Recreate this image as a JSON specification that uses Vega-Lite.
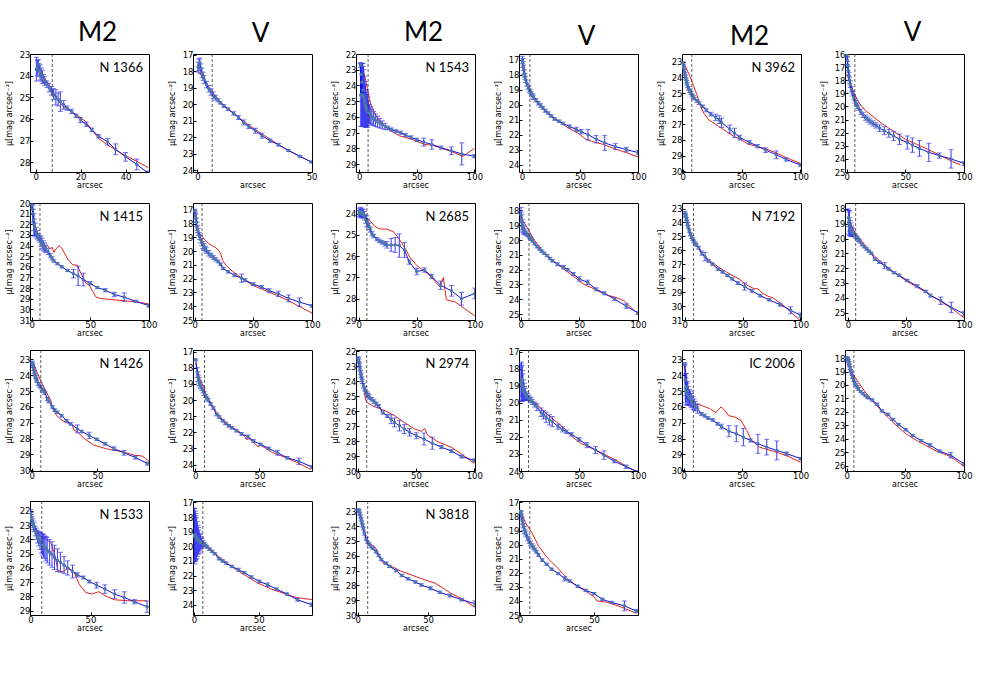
{
  "$schema": "https://vega.github.io/schema/vega-lite/v6.json",
  "padding": {"left": 4, "top": 19, "right": 0, "bottom": 0},
  "spacing": 8,
  "config": {
    "view": {"stroke": "#000", "strokeWidth": 1},
    "axis": {"labelFont": "DejaVu Sans", "labelFontSize": 8.5, "titleFont": "DejaVu Sans", "titleFontSize": 8, "titleFontWeight": "normal", "tickColor": "#000", "domain": false, "labelColor": "#000", "titleColor": "#000", "grid": false, "tickSize": -3, "labelPadding": 3},
    "axisY": {"tickCount": 12, "tickMinStep": 1, "minExtent": 15, "maxExtent": 15, "titlePadding": 2},
    "axisX": {"titlePadding": 1, "labelFlush": false},
    "title": {"font": "Lato", "fontSize": 26, "fontWeight": "normal", "frame": "group", "dx": 8, "offset": 4, "color": "#000"},
    "text": {"font": "Lato", "fontSize": 13, "color": "#000"}
  },
  "datasets": {
    "one": [{}],
    "obs": [
      {"p":"a1","r":0.3,"m":23.7,"e":0.55},{"p":"a1","r":0.8,"m":23.65,"e":0.35},{"p":"a1","r":1.2,"m":23.5,"e":0.25},{"p":"a1","r":1.6,"m":23.75,"e":0.3},{"p":"a1","r":2,"m":23.85,"e":0.35},{"p":"a1","r":2.5,"m":23.95,"e":0.3},{"p":"a1","r":3,"m":24.05,"e":0.3},{"p":"a1","r":3.5,"m":24.15,"e":0.2},{"p":"a1","r":4,"m":24.25,"e":0.2},{"p":"a1","r":5,"m":24.4,"e":0.15},{"p":"a1","r":6,"m":24.55,"e":0.2},{"p":"a1","r":7,"m":24.7,"e":0.2},{"p":"a1","r":8,"m":24.85,"e":0.25},{"p":"a1","r":9,"m":25.0,"e":0.35},{"p":"a1","r":10,"m":25.1,"e":0.3},{"p":"a1","r":11,"m":25.2,"e":0.45},{"p":"a1","r":12.5,"m":25.35,"e":0.2},{"p":"a1","r":14,"m":25.5,"e":0.1},{"p":"a1","r":16,"m":25.65,"e":0.1},{"p":"a1","r":18,"m":25.85,"e":0.08},{"p":"a1","r":20,"m":26.05,"e":0.12},{"p":"a1","r":22.5,"m":26.25,"e":0.1},{"p":"a1","r":25,"m":26.5,"e":0.08},{"p":"a1","r":28,"m":26.8,"e":0.08},{"p":"a1","r":32,"m":27.05,"e":0.15},{"p":"a1","r":35.5,"m":27.4,"e":0.25},{"p":"a1","r":40,"m":27.75,"e":0.2},{"p":"a1","r":45,"m":28.1,"e":0.25},{"p":"a1","r":50,"m":28.5,"e":0.1},
      {"p":"a2","r":0.3,"m":17.75,"e":0.3},{"p":"a2","r":0.7,"m":17.6,"e":0.35},{"p":"a2","r":1.1,"m":17.5,"e":0.3},{"p":"a2","r":1.5,"m":17.85,"e":0.3},{"p":"a2","r":2,"m":18.1,"e":0.3},{"p":"a2","r":2.5,"m":18.3,"e":0.25},{"p":"a2","r":3,"m":18.5,"e":0.25},{"p":"a2","r":4,"m":18.8,"e":0.2},{"p":"a2","r":5,"m":19.05,"e":0.2},{"p":"a2","r":6,"m":19.25,"e":0.2},{"p":"a2","r":7,"m":19.45,"e":0.2},{"p":"a2","r":8,"m":19.6,"e":0.15},{"p":"a2","r":9,"m":19.75,"e":0.1},{"p":"a2","r":10,"m":19.9,"e":0.08},{"p":"a2","r":11.6,"m":20.1,"e":0.08},{"p":"a2","r":13.5,"m":20.3,"e":0.08},{"p":"a2","r":15.9,"m":20.55,"e":0.1},{"p":"a2","r":18,"m":20.8,"e":0.12},{"p":"a2","r":20.3,"m":21.1,"e":0.15},{"p":"a2","r":22.5,"m":21.35,"e":0.12},{"p":"a2","r":25.4,"m":21.6,"e":0.15},{"p":"a2","r":28.3,"m":21.9,"e":0.15},{"p":"a2","r":31.9,"m":22.2,"e":0.1},{"p":"a2","r":35.5,"m":22.45,"e":0.08},{"p":"a2","r":39.9,"m":22.8,"e":0.05},{"p":"a2","r":44.9,"m":23.15,"e":0.05},{"p":"a2","r":50,"m":23.5,"e":0.05},
      {"p":"a3","r":1,"m":22.7,"e":0.15},{"p":"a3","r":1.3,"m":24.6,"e":2.0},{"p":"a3","r":1.6,"m":23.3,"e":0.7},{"p":"a3","r":2,"m":24.6,"e":2.0},{"p":"a3","r":2.4,"m":23.8,"e":1.2},{"p":"a3","r":2.8,"m":24.6,"e":2.0},{"p":"a3","r":3.2,"m":24.3,"e":1.7},{"p":"a3","r":3.6,"m":24.7,"e":1.9},{"p":"a3","r":4,"m":24.8,"e":1.8},{"p":"a3","r":4.5,"m":25.0,"e":1.6},{"p":"a3","r":5,"m":25.2,"e":1.45},{"p":"a3","r":5.5,"m":25.3,"e":1.35},{"p":"a3","r":6,"m":25.45,"e":1.2},{"p":"a3","r":6.5,"m":25.55,"e":1.1},{"p":"a3","r":7,"m":25.6,"e":1.05},{"p":"a3","r":7.5,"m":25.65,"e":0.9},{"p":"a3","r":8,"m":25.7,"e":0.7},{"p":"a3","r":9,"m":25.8,"e":0.6},{"p":"a3","r":10,"m":25.9,"e":0.55},{"p":"a3","r":11,"m":26.0,"e":0.5},{"p":"a3","r":12.5,"m":26.1,"e":0.45},{"p":"a3","r":14,"m":26.2,"e":0.4},{"p":"a3","r":16,"m":26.3,"e":0.35},{"p":"a3","r":18,"m":26.4,"e":0.3},{"p":"a3","r":20,"m":26.5,"e":0.25},{"p":"a3","r":22.5,"m":26.6,"e":0.2},{"p":"a3","r":25,"m":26.7,"e":0.12},{"p":"a3","r":28,"m":26.8,"e":0.1},{"p":"a3","r":32,"m":26.9,"e":0.08},{"p":"a3","r":36,"m":27.0,"e":0.1},{"p":"a3","r":40,"m":27.15,"e":0.1},{"p":"a3","r":45,"m":27.3,"e":0.1},{"p":"a3","r":50,"m":27.45,"e":0.1},{"p":"a3","r":56,"m":27.6,"e":0.25},{"p":"a3","r":63,"m":27.75,"e":0.3},{"p":"a3","r":71,"m":27.95,"e":0.1},{"p":"a3","r":80,"m":28.15,"e":0.25},{"p":"a3","r":89,"m":28.35,"e":0.7},{"p":"a3","r":100,"m":28.5,"e":0.1},
      {"p":"a4","r":0.3,"m":17.0,"e":0.25},{"p":"a4","r":0.7,"m":17.2,"e":0.3},{"p":"a4","r":1,"m":17.4,"e":0.3},{"p":"a4","r":1.5,"m":17.65,"e":0.3},{"p":"a4","r":2,"m":17.9,"e":0.25},{"p":"a4","r":2.5,"m":18.1,"e":0.2},{"p":"a4","r":3,"m":18.3,"e":0.2},{"p":"a4","r":4,"m":18.55,"e":0.2},{"p":"a4","r":5,"m":18.75,"e":0.2},{"p":"a4","r":6,"m":18.95,"e":0.2},{"p":"a4","r":7,"m":19.1,"e":0.15},{"p":"a4","r":8,"m":19.25,"e":0.15},{"p":"a4","r":9,"m":19.4,"e":0.15},{"p":"a4","r":10,"m":19.5,"e":0.15},{"p":"a4","r":12,"m":19.7,"e":0.12},{"p":"a4","r":14,"m":19.9,"e":0.12},{"p":"a4","r":16,"m":20.05,"e":0.12},{"p":"a4","r":18,"m":20.2,"e":0.1},{"p":"a4","r":20,"m":20.4,"e":0.1},{"p":"a4","r":22.5,"m":20.55,"e":0.08},{"p":"a4","r":25,"m":20.75,"e":0.08},{"p":"a4","r":28,"m":20.95,"e":0.08},{"p":"a4","r":32,"m":21.1,"e":0.08},{"p":"a4","r":35.3,"m":21.25,"e":0.08},{"p":"a4","r":41,"m":21.45,"e":0.1},{"p":"a4","r":46.8,"m":21.65,"e":0.15},{"p":"a4","r":51.1,"m":21.8,"e":0.15},{"p":"a4","r":56.9,"m":22.0,"e":0.35},{"p":"a4","r":64,"m":22.3,"e":0.25},{"p":"a4","r":71.3,"m":22.55,"e":0.5},{"p":"a4","r":80.5,"m":22.8,"e":0.2},{"p":"a4","r":89.9,"m":23.0,"e":0.15},{"p":"a4","r":100,"m":23.2,"e":0.15},
      {"p":"a5","r":0.3,"m":23.1,"e":0.1},{"p":"a5","r":0.7,"m":23.3,"e":0.15},{"p":"a5","r":1,"m":23.45,"e":0.15},{"p":"a5","r":1.5,"m":23.65,"e":0.15},{"p":"a5","r":2,"m":23.85,"e":0.15},{"p":"a5","r":2.5,"m":24.0,"e":0.15},{"p":"a5","r":3,"m":24.2,"e":0.15},{"p":"a5","r":3.5,"m":24.35,"e":0.15},{"p":"a5","r":4,"m":24.5,"e":0.15},{"p":"a5","r":5,"m":24.7,"e":0.12},{"p":"a5","r":6,"m":24.85,"e":0.12},{"p":"a5","r":7,"m":25.0,"e":0.1},{"p":"a5","r":8,"m":25.15,"e":0.1},{"p":"a5","r":9,"m":25.25,"e":0.1},{"p":"a5","r":10,"m":25.35,"e":0.08},{"p":"a5","r":12,"m":25.5,"e":0.08},{"p":"a5","r":14,"m":25.65,"e":0.08},{"p":"a5","r":17,"m":25.85,"e":0.08},{"p":"a5","r":20,"m":26.1,"e":0.1},{"p":"a5","r":24,"m":26.35,"e":0.12},{"p":"a5","r":28,"m":26.55,"e":0.2},{"p":"a5","r":31,"m":26.7,"e":0.25},{"p":"a5","r":33,"m":26.9,"e":0.3},{"p":"a5","r":40,"m":27.3,"e":0.25},{"p":"a5","r":44,"m":27.55,"e":0.3},{"p":"a5","r":48.5,"m":27.85,"e":0.15},{"p":"a5","r":56.7,"m":28.15,"e":0.1},{"p":"a5","r":63.6,"m":28.4,"e":0.1},{"p":"a5","r":70.4,"m":28.65,"e":0.15},{"p":"a5","r":79.5,"m":28.95,"e":0.25},{"p":"a5","r":88,"m":29.25,"e":0.1},{"p":"a5","r":100,"m":29.6,"e":0.1},
      {"p":"a6","r":0.3,"m":16.1,"e":0.15},{"p":"a6","r":0.6,"m":16.5,"e":0.3},{"p":"a6","r":1,"m":16.9,"e":0.35},{"p":"a6","r":1.5,"m":17.3,"e":0.35},{"p":"a6","r":2,"m":17.7,"e":0.3},{"p":"a6","r":2.5,"m":18.0,"e":0.25},{"p":"a6","r":3,"m":18.3,"e":0.25},{"p":"a6","r":4,"m":18.7,"e":0.2},{"p":"a6","r":5,"m":19.0,"e":0.2},{"p":"a6","r":6,"m":19.3,"e":0.2},{"p":"a6","r":7,"m":19.55,"e":0.2},{"p":"a6","r":8,"m":19.75,"e":0.2},{"p":"a6","r":9,"m":19.95,"e":0.2},{"p":"a6","r":10,"m":20.1,"e":0.2},{"p":"a6","r":12,"m":20.4,"e":0.2},{"p":"a6","r":14,"m":20.65,"e":0.2},{"p":"a6","r":16,"m":20.85,"e":0.2},{"p":"a6","r":18,"m":21.0,"e":0.2},{"p":"a6","r":20,"m":21.15,"e":0.2},{"p":"a6","r":22.5,"m":21.3,"e":0.2},{"p":"a6","r":25,"m":21.45,"e":0.2},{"p":"a6","r":28,"m":21.65,"e":0.25},{"p":"a6","r":32,"m":21.85,"e":0.3},{"p":"a6","r":36,"m":22.05,"e":0.3},{"p":"a6","r":40,"m":22.25,"e":0.35},{"p":"a6","r":45,"m":22.5,"e":0.4},{"p":"a6","r":51.7,"m":22.75,"e":0.5},{"p":"a6","r":56,"m":22.95,"e":0.55},{"p":"a6","r":62,"m":23.2,"e":0.6},{"p":"a6","r":70,"m":23.5,"e":0.7},{"p":"a6","r":79,"m":23.75,"e":0.2},{"p":"a6","r":89,"m":24.0,"e":0.7},{"p":"a6","r":100,"m":24.35,"e":0.15},
      {"p":"b1","r":0.3,"m":20.2,"e":0.3},{"p":"b1","r":0.7,"m":20.6,"e":0.5},{"p":"b1","r":1,"m":21.0,"e":0.8},{"p":"b1","r":1.5,"m":21.6,"e":1.0},{"p":"b1","r":2,"m":22.0,"e":1.0},{"p":"b1","r":2.5,"m":22.3,"e":0.8},{"p":"b1","r":3,"m":22.5,"e":0.6},{"p":"b1","r":4,"m":22.8,"e":0.5},{"p":"b1","r":5,"m":23.0,"e":0.4},{"p":"b1","r":6,"m":23.2,"e":0.35},{"p":"b1","r":7,"m":23.4,"e":0.3},{"p":"b1","r":8,"m":23.6,"e":0.5},{"p":"b1","r":9,"m":23.8,"e":0.5},{"p":"b1","r":10,"m":24.0,"e":0.45},{"p":"b1","r":11,"m":24.15,"e":0.4},{"p":"b1","r":12,"m":24.3,"e":0.35},{"p":"b1","r":14,"m":24.55,"e":0.3},{"p":"b1","r":16,"m":24.95,"e":0.2},{"p":"b1","r":17.5,"m":25.2,"e":0.15},{"p":"b1","r":19,"m":25.45,"e":0.1},{"p":"b1","r":22,"m":25.7,"e":0.1},{"p":"b1","r":25.7,"m":26.0,"e":0.1},{"p":"b1","r":30.6,"m":26.35,"e":0.1},{"p":"b1","r":35.7,"m":26.65,"e":0.4},{"p":"b1","r":39.7,"m":26.85,"e":0.9},{"p":"b1","r":44,"m":27.2,"e":0.6},{"p":"b1","r":50,"m":27.55,"e":0.15},{"p":"b1","r":56,"m":27.95,"e":0.1},{"p":"b1","r":62.9,"m":28.2,"e":0.15},{"p":"b1","r":70.6,"m":28.6,"e":0.2},{"p":"b1","r":79,"m":28.85,"e":0.4},{"p":"b1","r":89,"m":29.25,"e":0.1},{"p":"b1","r":100,"m":29.65,"e":0.15},
      {"p":"b2","r":0.3,"m":17.1,"e":0.15},{"p":"b2","r":0.7,"m":17.4,"e":0.25},{"p":"b2","r":1,"m":17.6,"e":0.3},{"p":"b2","r":1.5,"m":17.9,"e":0.3},{"p":"b2","r":2,"m":18.2,"e":0.3},{"p":"b2","r":2.5,"m":18.4,"e":0.25},{"p":"b2","r":3,"m":18.6,"e":0.25},{"p":"b2","r":4,"m":18.9,"e":0.25},{"p":"b2","r":5,"m":19.15,"e":0.25},{"p":"b2","r":6,"m":19.35,"e":0.25},{"p":"b2","r":7,"m":19.55,"e":0.25},{"p":"b2","r":8,"m":19.7,"e":0.25},{"p":"b2","r":9,"m":19.85,"e":0.2},{"p":"b2","r":10,"m":19.95,"e":0.2},{"p":"b2","r":12,"m":20.15,"e":0.2},{"p":"b2","r":14,"m":20.3,"e":0.15},{"p":"b2","r":16,"m":20.45,"e":0.15},{"p":"b2","r":18,"m":20.6,"e":0.12},{"p":"b2","r":20,"m":20.75,"e":0.1},{"p":"b2","r":22,"m":20.95,"e":0.1},{"p":"b2","r":24.3,"m":21.25,"e":0.08},{"p":"b2","r":28.6,"m":21.5,"e":0.08},{"p":"b2","r":34,"m":21.75,"e":0.1},{"p":"b2","r":40,"m":21.96,"e":0.3},{"p":"b2","r":42.9,"m":22.1,"e":0.1},{"p":"b2","r":50,"m":22.4,"e":0.1},{"p":"b2","r":57,"m":22.6,"e":0.1},{"p":"b2","r":63.4,"m":22.87,"e":0.15},{"p":"b2","r":71.4,"m":23.1,"e":0.2},{"p":"b2","r":80,"m":23.43,"e":0.25},{"p":"b2","r":89.4,"m":23.7,"e":0.3},{"p":"b2","r":100,"m":23.97,"e":0.1},
      {"p":"b3","r":0.3,"m":24.0,"e":0.15},{"p":"b3","r":0.7,"m":23.9,"e":0.15},{"p":"b3","r":1,"m":24.0,"e":0.15},{"p":"b3","r":1.5,"m":23.9,"e":0.2},{"p":"b3","r":2,"m":24.0,"e":0.2},{"p":"b3","r":2.5,"m":24.0,"e":0.15},{"p":"b3","r":3,"m":23.95,"e":0.2},{"p":"b3","r":3.5,"m":24.05,"e":0.15},{"p":"b3","r":4,"m":24.0,"e":0.2},{"p":"b3","r":5,"m":24.1,"e":0.2},{"p":"b3","r":6,"m":24.25,"e":0.2},{"p":"b3","r":7,"m":24.35,"e":0.25},{"p":"b3","r":8,"m":24.45,"e":0.2},{"p":"b3","r":9,"m":24.6,"e":0.15},{"p":"b3","r":10,"m":24.75,"e":0.12},{"p":"b3","r":11.4,"m":24.95,"e":0.1},{"p":"b3","r":13,"m":25.05,"e":0.08},{"p":"b3","r":15.7,"m":25.2,"e":0.08},{"p":"b3","r":18,"m":25.28,"e":0.08},{"p":"b3","r":20,"m":25.35,"e":0.08},{"p":"b3","r":22.5,"m":25.42,"e":0.1},{"p":"b3","r":24.3,"m":25.47,"e":0.15},{"p":"b3","r":28,"m":25.47,"e":0.3},{"p":"b3","r":31.4,"m":25.47,"e":0.35},{"p":"b3","r":35,"m":25.5,"e":0.55},{"p":"b3","r":39.4,"m":25.71,"e":0.35},{"p":"b3","r":43.7,"m":26.28,"e":0.1},{"p":"b3","r":50,"m":26.72,"e":0.15},{"p":"b3","r":56.6,"m":26.65,"e":0.1},{"p":"b3","r":62.9,"m":26.95,"e":0.1},{"p":"b3","r":70.6,"m":27.37,"e":0.2},{"p":"b3","r":80,"m":27.63,"e":0.25},{"p":"b3","r":88.6,"m":28.0,"e":0.3},{"p":"b3","r":100,"m":27.75,"e":0.25},
      {"p":"b4","r":0.3,"m":18.3,"e":0.5},{"p":"b4","r":0.7,"m":18.6,"e":0.5},{"p":"b4","r":1,"m":18.8,"e":0.5},{"p":"b4","r":1.5,"m":19.0,"e":0.4},{"p":"b4","r":2,"m":19.15,"e":0.35},{"p":"b4","r":2.5,"m":19.3,"e":0.3},{"p":"b4","r":3,"m":19.35,"e":0.25},{"p":"b4","r":4,"m":19.45,"e":0.2},{"p":"b4","r":5,"m":19.55,"e":0.15},{"p":"b4","r":6,"m":19.65,"e":0.12},{"p":"b4","r":7,"m":19.75,"e":0.1},{"p":"b4","r":8,"m":19.85,"e":0.1},{"p":"b4","r":9,"m":19.95,"e":0.08},{"p":"b4","r":10,"m":20.05,"e":0.08},{"p":"b4","r":12,"m":20.25,"e":0.08},{"p":"b4","r":14,"m":20.45,"e":0.08},{"p":"b4","r":16,"m":20.6,"e":0.08},{"p":"b4","r":18,"m":20.75,"e":0.08},{"p":"b4","r":20,"m":20.9,"e":0.08},{"p":"b4","r":22.5,"m":21.05,"e":0.08},{"p":"b4","r":25,"m":21.25,"e":0.08},{"p":"b4","r":27,"m":21.4,"e":0.08},{"p":"b4","r":31.4,"m":21.64,"e":0.1},{"p":"b4","r":36.6,"m":21.83,"e":0.12},{"p":"b4","r":40,"m":22.0,"e":0.08},{"p":"b4","r":45,"m":22.3,"e":0.1},{"p":"b4","r":50,"m":22.63,"e":0.15},{"p":"b4","r":57.1,"m":22.86,"e":0.15},{"p":"b4","r":64.3,"m":23.33,"e":0.1},{"p":"b4","r":71.4,"m":23.6,"e":0.1},{"p":"b4","r":80,"m":23.99,"e":0.1},{"p":"b4","r":90,"m":24.46,"e":0.15},{"p":"b4","r":100,"m":24.93,"e":0.1},
      {"p":"b5","r":0.3,"m":23.3,"e":0.1},{"p":"b5","r":0.7,"m":23.45,"e":0.1},{"p":"b5","r":1,"m":23.55,"e":0.1},{"p":"b5","r":1.5,"m":23.75,"e":0.1},{"p":"b5","r":2,"m":23.9,"e":0.1},{"p":"b5","r":2.5,"m":24.1,"e":0.1},{"p":"b5","r":3,"m":24.3,"e":0.1},{"p":"b5","r":4,"m":24.6,"e":0.1},{"p":"b5","r":5,"m":24.85,"e":0.1},{"p":"b5","r":6,"m":25.05,"e":0.1},{"p":"b5","r":7,"m":25.2,"e":0.1},{"p":"b5","r":8,"m":25.35,"e":0.1},{"p":"b5","r":9,"m":25.5,"e":0.1},{"p":"b5","r":10,"m":25.6,"e":0.1},{"p":"b5","r":12,"m":25.8,"e":0.1},{"p":"b5","r":14.8,"m":26.2,"e":0.15},{"p":"b5","r":17.6,"m":26.45,"e":0.3},{"p":"b5","r":20.5,"m":26.75,"e":0.1},{"p":"b5","r":24.1,"m":27.0,"e":0.08},{"p":"b5","r":29,"m":27.35,"e":0.08},{"p":"b5","r":32.7,"m":27.55,"e":0.08},{"p":"b5","r":37,"m":27.8,"e":0.08},{"p":"b5","r":41,"m":28.05,"e":0.08},{"p":"b5","r":46,"m":28.35,"e":0.1},{"p":"b5","r":51.7,"m":28.6,"e":0.25},{"p":"b5","r":58,"m":28.9,"e":0.1},{"p":"b5","r":65.3,"m":29.25,"e":0.1},{"p":"b5","r":73,"m":29.55,"e":0.08},{"p":"b5","r":82.4,"m":29.9,"e":0.1},{"p":"b5","r":91.5,"m":30.3,"e":0.25},{"p":"b5","r":100,"m":30.65,"e":0.15},
      {"p":"b6","r":0.3,"m":18.6,"e":0.6},{"p":"b6","r":0.6,"m":18.9,"e":0.8},{"p":"b6","r":1,"m":19.0,"e":0.8},{"p":"b6","r":1.3,"m":18.8,"e":0.7},{"p":"b6","r":1.6,"m":19.2,"e":0.6},{"p":"b6","r":2,"m":19.3,"e":0.5},{"p":"b6","r":2.5,"m":19.4,"e":0.45},{"p":"b6","r":3,"m":19.5,"e":0.35},{"p":"b6","r":3.5,"m":19.55,"e":0.3},{"p":"b6","r":4,"m":19.6,"e":0.25},{"p":"b6","r":5,"m":19.7,"e":0.15},{"p":"b6","r":6,"m":19.8,"e":0.12},{"p":"b6","r":7,"m":19.9,"e":0.1},{"p":"b6","r":8,"m":20.0,"e":0.1},{"p":"b6","r":9,"m":20.1,"e":0.1},{"p":"b6","r":10,"m":20.2,"e":0.1},{"p":"b6","r":12,"m":20.4,"e":0.1},{"p":"b6","r":14,"m":20.55,"e":0.08},{"p":"b6","r":16,"m":20.7,"e":0.08},{"p":"b6","r":18,"m":20.85,"e":0.08},{"p":"b6","r":20,"m":21.0,"e":0.08},{"p":"b6","r":23.3,"m":21.4,"e":0.08},{"p":"b6","r":27,"m":21.6,"e":0.08},{"p":"b6","r":31.6,"m":21.83,"e":0.2},{"p":"b6","r":35,"m":22.05,"e":0.08},{"p":"b6","r":39.6,"m":22.3,"e":0.08},{"p":"b6","r":44,"m":22.48,"e":0.08},{"p":"b6","r":51,"m":22.83,"e":0.08},{"p":"b6","r":59.8,"m":23.22,"e":0.1},{"p":"b6","r":67,"m":23.57,"e":0.08},{"p":"b6","r":71,"m":23.85,"e":0.1},{"p":"b6","r":80,"m":24.2,"e":0.25},{"p":"b6","r":89,"m":24.65,"e":0.35},{"p":"b6","r":100,"m":25.08,"e":0.15},
      {"p":"c1","r":0.3,"m":23.2,"e":0.1},{"p":"c1","r":0.7,"m":23.3,"e":0.1},{"p":"c1","r":1,"m":23.4,"e":0.1},{"p":"c1","r":1.5,"m":23.6,"e":0.1},{"p":"c1","r":2,"m":23.8,"e":0.1},{"p":"c1","r":2.5,"m":23.95,"e":0.1},{"p":"c1","r":3,"m":24.1,"e":0.1},{"p":"c1","r":3.5,"m":24.25,"e":0.1},{"p":"c1","r":4,"m":24.35,"e":0.1},{"p":"c1","r":5,"m":24.55,"e":0.1},{"p":"c1","r":6,"m":24.65,"e":0.1},{"p":"c1","r":7,"m":24.75,"e":0.1},{"p":"c1","r":8,"m":24.9,"e":0.1},{"p":"c1","r":9,"m":25.0,"e":0.1},{"p":"c1","r":10,"m":25.1,"e":0.1},{"p":"c1","r":12,"m":25.5,"e":0.1},{"p":"c1","r":13,"m":25.65,"e":0.08},{"p":"c1","r":15.7,"m":26.0,"e":0.08},{"p":"c1","r":17.5,"m":26.2,"e":0.08},{"p":"c1","r":19.5,"m":26.34,"e":0.08},{"p":"c1","r":22.8,"m":26.55,"e":0.08},{"p":"c1","r":26.6,"m":26.87,"e":0.08},{"p":"c1","r":29.7,"m":27.07,"e":0.08},{"p":"c1","r":34.8,"m":27.39,"e":0.25},{"p":"c1","r":38,"m":27.55,"e":0.08},{"p":"c1","r":43.7,"m":27.8,"e":0.2},{"p":"c1","r":49.5,"m":28.05,"e":0.08},{"p":"c1","r":55.8,"m":28.33,"e":0.08},{"p":"c1","r":62.7,"m":28.64,"e":0.12},{"p":"c1","r":70.3,"m":28.9,"e":0.15},{"p":"c1","r":79,"m":29.2,"e":0.1},{"p":"c1","r":88,"m":29.58,"e":0.1},
      {"p":"c2","r":0.3,"m":17.5,"e":0.05},{"p":"c2","r":1.5,"m":18.3,"e":0.3},{"p":"c2","r":2,"m":18.55,"e":0.3},{"p":"c2","r":2.5,"m":18.7,"e":0.25},{"p":"c2","r":3,"m":18.85,"e":0.25},{"p":"c2","r":3.5,"m":19.0,"e":0.2},{"p":"c2","r":4,"m":19.1,"e":0.2},{"p":"c2","r":5,"m":19.25,"e":0.15},{"p":"c2","r":6,"m":19.4,"e":0.15},{"p":"c2","r":7,"m":19.6,"e":0.12},{"p":"c2","r":8,"m":19.75,"e":0.1},{"p":"c2","r":9,"m":19.9,"e":0.1},{"p":"c2","r":10,"m":20.0,"e":0.1},{"p":"c2","r":12,"m":20.25,"e":0.08},{"p":"c2","r":14,"m":20.5,"e":0.08},{"p":"c2","r":16.7,"m":20.9,"e":0.08},{"p":"c2","r":18.5,"m":21.05,"e":0.08},{"p":"c2","r":21.3,"m":21.28,"e":0.08},{"p":"c2","r":23.5,"m":21.45,"e":0.08},{"p":"c2","r":26,"m":21.6,"e":0.08},{"p":"c2","r":28.5,"m":21.72,"e":0.08},{"p":"c2","r":32,"m":21.9,"e":0.08},{"p":"c2","r":36,"m":22.1,"e":0.08},{"p":"c2","r":41,"m":22.27,"e":0.1},{"p":"c2","r":45.4,"m":22.54,"e":0.08},{"p":"c2","r":50.8,"m":22.75,"e":0.08},{"p":"c2","r":57.2,"m":23.0,"e":0.08},{"p":"c2","r":64.1,"m":23.27,"e":0.15},{"p":"c2","r":71.8,"m":23.58,"e":0.08},{"p":"c2","r":80.8,"m":23.8,"e":0.2},{"p":"c2","r":91,"m":24.15,"e":0.08},
      {"p":"c3","r":0.3,"m":22.5,"e":0.15},{"p":"c3","r":0.7,"m":22.55,"e":0.15},{"p":"c3","r":1,"m":22.65,"e":0.15},{"p":"c3","r":1.5,"m":22.9,"e":0.15},{"p":"c3","r":2,"m":23.15,"e":0.15},{"p":"c3","r":2.5,"m":23.4,"e":0.15},{"p":"c3","r":3,"m":23.6,"e":0.15},{"p":"c3","r":3.5,"m":23.85,"e":0.15},{"p":"c3","r":4,"m":24.0,"e":0.15},{"p":"c3","r":5,"m":24.3,"e":0.15},{"p":"c3","r":6,"m":24.5,"e":0.15},{"p":"c3","r":7,"m":24.7,"e":0.15},{"p":"c3","r":8,"m":24.85,"e":0.15},{"p":"c3","r":9,"m":24.95,"e":0.15},{"p":"c3","r":10,"m":25.05,"e":0.15},{"p":"c3","r":12,"m":25.2,"e":0.12},{"p":"c3","r":14,"m":25.35,"e":0.12},{"p":"c3","r":16,"m":25.5,"e":0.12},{"p":"c3","r":18,"m":25.65,"e":0.1},{"p":"c3","r":21.6,"m":26.09,"e":0.1},{"p":"c3","r":25.3,"m":26.31,"e":0.1},{"p":"c3","r":28.7,"m":26.53,"e":0.3},{"p":"c3","r":31.6,"m":26.75,"e":0.3},{"p":"c3","r":35.9,"m":26.97,"e":0.35},{"p":"c3","r":40,"m":27.19,"e":0.3},{"p":"c3","r":44.5,"m":27.41,"e":0.25},{"p":"c3","r":50.3,"m":27.64,"e":0.2},{"p":"c3","r":56.9,"m":27.86,"e":0.4},{"p":"c3","r":64,"m":28.14,"e":0.4},{"p":"c3","r":71.8,"m":28.4,"e":0.1},{"p":"c3","r":80.5,"m":28.67,"e":0.1},{"p":"c3","r":89,"m":29.03,"e":0.1},{"p":"c3","r":100,"m":29.29,"e":0.1},
      {"p":"c4","r":0.3,"m":18.8,"e":1.1},{"p":"c4","r":0.6,"m":18.6,"e":1.0},{"p":"c4","r":1,"m":18.9,"e":1.0},{"p":"c4","r":1.3,"m":18.7,"e":0.9},{"p":"c4","r":1.6,"m":19.0,"e":0.9},{"p":"c4","r":2,"m":19.1,"e":0.8},{"p":"c4","r":2.5,"m":19.25,"e":0.6},{"p":"c4","r":3,"m":19.35,"e":0.5},{"p":"c4","r":3.5,"m":19.45,"e":0.4},{"p":"c4","r":4,"m":19.5,"e":0.35},{"p":"c4","r":5,"m":19.6,"e":0.25},{"p":"c4","r":6,"m":19.65,"e":0.2},{"p":"c4","r":7,"m":19.7,"e":0.15},{"p":"c4","r":8,"m":19.8,"e":0.15},{"p":"c4","r":9,"m":19.85,"e":0.15},{"p":"c4","r":10,"m":19.95,"e":0.15},{"p":"c4","r":12,"m":20.1,"e":0.15},{"p":"c4","r":14,"m":20.25,"e":0.2},{"p":"c4","r":17.4,"m":20.55,"e":0.25},{"p":"c4","r":19.5,"m":20.7,"e":0.25},{"p":"c4","r":21.7,"m":20.85,"e":0.3},{"p":"c4","r":24.5,"m":21.0,"e":0.3},{"p":"c4","r":27,"m":21.1,"e":0.3},{"p":"c4","r":31.9,"m":21.4,"e":0.15},{"p":"c4","r":35.7,"m":21.56,"e":0.15},{"p":"c4","r":39,"m":21.7,"e":0.1},{"p":"c4","r":43.5,"m":21.85,"e":0.1},{"p":"c4","r":49.9,"m":22.15,"e":0.1},{"p":"c4","r":56.5,"m":22.48,"e":0.15},{"p":"c4","r":63.8,"m":22.77,"e":0.2},{"p":"c4","r":71,"m":23.07,"e":0.25},{"p":"c4","r":79.7,"m":23.42,"e":0.1},{"p":"c4","r":89.9,"m":23.75,"e":0.1},{"p":"c4","r":100,"m":24.05,"e":0.05},
      {"p":"c5","r":1,"m":23.3,"e":0.1},{"p":"c5","r":1.3,"m":24.3,"e":1.0},{"p":"c5","r":1.6,"m":24.8,"e":0.9},{"p":"c5","r":2,"m":25.0,"e":0.85},{"p":"c5","r":2.5,"m":24.7,"e":0.8},{"p":"c5","r":3,"m":25.2,"e":0.7},{"p":"c5","r":3.5,"m":25.0,"e":0.6},{"p":"c5","r":4,"m":25.3,"e":0.6},{"p":"c5","r":5,"m":25.4,"e":0.5},{"p":"c5","r":6,"m":25.5,"e":0.5},{"p":"c5","r":7,"m":25.6,"e":0.45},{"p":"c5","r":8,"m":25.75,"e":0.4},{"p":"c5","r":9,"m":25.85,"e":0.35},{"p":"c5","r":10,"m":25.95,"e":0.3},{"p":"c5","r":12,"m":26.1,"e":0.3},{"p":"c5","r":15.2,"m":26.45,"e":0.1},{"p":"c5","r":18,"m":26.55,"e":0.1},{"p":"c5","r":20.7,"m":26.7,"e":0.08},{"p":"c5","r":24.9,"m":26.82,"e":0.08},{"p":"c5","r":29,"m":27.07,"e":0.08},{"p":"c5","r":32.3,"m":27.24,"e":0.15},{"p":"c5","r":38.7,"m":27.53,"e":0.35},{"p":"c5","r":45,"m":27.7,"e":0.5},{"p":"c5","r":51,"m":27.91,"e":0.55},{"p":"c5","r":57.2,"m":28.12,"e":0.1},{"p":"c5","r":63.5,"m":28.33,"e":0.6},{"p":"c5","r":71,"m":28.54,"e":0.5},{"p":"c5","r":79.6,"m":28.75,"e":0.6},{"p":"c5","r":88,"m":28.95,"e":0.1},{"p":"c5","r":100,"m":29.27,"e":0.08},
      {"p":"c6","r":0.3,"m":18.0,"e":0.1},{"p":"c6","r":0.7,"m":18.05,"e":0.1},{"p":"c6","r":1,"m":18.1,"e":0.1},{"p":"c6","r":1.5,"m":18.2,"e":0.1},{"p":"c6","r":2,"m":18.35,"e":0.1},{"p":"c6","r":2.5,"m":18.55,"e":0.1},{"p":"c6","r":3,"m":18.75,"e":0.1},{"p":"c6","r":3.5,"m":18.95,"e":0.1},{"p":"c6","r":4,"m":19.1,"e":0.1},{"p":"c6","r":5,"m":19.4,"e":0.1},{"p":"c6","r":6,"m":19.65,"e":0.1},{"p":"c6","r":7,"m":19.85,"e":0.1},{"p":"c6","r":8,"m":20.0,"e":0.1},{"p":"c6","r":9,"m":20.15,"e":0.1},{"p":"c6","r":10,"m":20.3,"e":0.1},{"p":"c6","r":12,"m":20.5,"e":0.08},{"p":"c6","r":14,"m":20.65,"e":0.08},{"p":"c6","r":16,"m":20.8,"e":0.08},{"p":"c6","r":18,"m":20.95,"e":0.08},{"p":"c6","r":21.7,"m":21.12,"e":0.08},{"p":"c6","r":25.9,"m":21.43,"e":0.08},{"p":"c6","r":30.1,"m":21.93,"e":0.08},{"p":"c6","r":35.2,"m":22.19,"e":0.08},{"p":"c6","r":39.4,"m":22.57,"e":0.08},{"p":"c6","r":44.2,"m":22.95,"e":0.08},{"p":"c6","r":50.4,"m":23.33,"e":0.08},{"p":"c6","r":56.3,"m":23.76,"e":0.08},{"p":"c6","r":63.4,"m":24.14,"e":0.08},{"p":"c6","r":71,"m":24.47,"e":0.1},{"p":"c6","r":79.4,"m":24.93,"e":0.1},{"p":"c6","r":88.7,"m":25.23,"e":0.2},{"p":"c6","r":100,"m":25.87,"e":0.1},
      {"p":"d1","r":0.3,"m":22.2,"e":0.3},{"p":"d1","r":0.7,"m":22.4,"e":0.3},{"p":"d1","r":1,"m":22.55,"e":0.3},{"p":"d1","r":1.5,"m":22.7,"e":0.3},{"p":"d1","r":2,"m":22.85,"e":0.3},{"p":"d1","r":2.5,"m":23.0,"e":0.3},{"p":"d1","r":3,"m":23.15,"e":0.3},{"p":"d1","r":4,"m":23.4,"e":0.35},{"p":"d1","r":5,"m":23.6,"e":0.4},{"p":"d1","r":6,"m":23.8,"e":0.45},{"p":"d1","r":7,"m":23.95,"e":0.5},{"p":"d1","r":8,"m":24.1,"e":0.6},{"p":"d1","r":9,"m":24.25,"e":0.7},{"p":"d1","r":10,"m":24.35,"e":0.75},{"p":"d1","r":11,"m":24.45,"e":0.8},{"p":"d1","r":12,"m":24.55,"e":0.8},{"p":"d1","r":13,"m":24.65,"e":0.85},{"p":"d1","r":14,"m":24.75,"e":0.9},{"p":"d1","r":16,"m":24.9,"e":0.9},{"p":"d1","r":18,"m":25.05,"e":0.9},{"p":"d1","r":20,"m":25.25,"e":0.85},{"p":"d1","r":22.5,"m":25.45,"e":0.8},{"p":"d1","r":25,"m":25.6,"e":0.7},{"p":"d1","r":28,"m":25.8,"e":0.6},{"p":"d1","r":31,"m":26.0,"e":0.5},{"p":"d1","r":35,"m":26.25,"e":0.45},{"p":"d1","r":39,"m":26.48,"e":0.15},{"p":"d1","r":44,"m":26.67,"e":0.1},{"p":"d1","r":49,"m":26.95,"e":0.1},{"p":"d1","r":55,"m":27.2,"e":0.2},{"p":"d1","r":62,"m":27.48,"e":0.3},{"p":"d1","r":70,"m":27.83,"e":0.3},{"p":"d1","r":78,"m":28.07,"e":0.4},{"p":"d1","r":86.5,"m":28.37,"e":0.15},{"p":"d1","r":97,"m":28.72,"e":0.4},
      {"p":"d2","r":0.3,"m":19.3,"e":1.9},{"p":"d2","r":0.6,"m":19.2,"e":1.8},{"p":"d2","r":1,"m":19.3,"e":1.7},{"p":"d2","r":1.3,"m":19.35,"e":1.6},{"p":"d2","r":1.6,"m":19.4,"e":1.5},{"p":"d2","r":2,"m":19.45,"e":1.4},{"p":"d2","r":2.5,"m":19.5,"e":1.2},{"p":"d2","r":3,"m":19.55,"e":1.0},{"p":"d2","r":3.5,"m":19.6,"e":0.9},{"p":"d2","r":4,"m":19.65,"e":0.75},{"p":"d2","r":4.5,"m":19.7,"e":0.6},{"p":"d2","r":5,"m":19.7,"e":0.5},{"p":"d2","r":5.5,"m":19.75,"e":0.4},{"p":"d2","r":6,"m":19.75,"e":0.3},{"p":"d2","r":7,"m":19.8,"e":0.2},{"p":"d2","r":8,"m":19.85,"e":0.12},{"p":"d2","r":9,"m":19.95,"e":0.1},{"p":"d2","r":10,"m":20.05,"e":0.08},{"p":"d2","r":12,"m":20.2,"e":0.08},{"p":"d2","r":14,"m":20.35,"e":0.08},{"p":"d2","r":16,"m":20.5,"e":0.08},{"p":"d2","r":19.3,"m":20.85,"e":0.08},{"p":"d2","r":22,"m":21.0,"e":0.08},{"p":"d2","r":24.8,"m":21.15,"e":0.08},{"p":"d2","r":29.3,"m":21.38,"e":0.08},{"p":"d2","r":34.3,"m":21.6,"e":0.1},{"p":"d2","r":38.8,"m":21.8,"e":0.08},{"p":"d2","r":44.3,"m":22.1,"e":0.08},{"p":"d2","r":50.5,"m":22.4,"e":0.1},{"p":"d2","r":56.8,"m":22.63,"e":0.12},{"p":"d2","r":63.8,"m":22.93,"e":0.08},{"p":"d2","r":71.8,"m":23.27,"e":0.08},{"p":"d2","r":80,"m":23.66,"e":0.1},{"p":"d2","r":91,"m":24.0,"e":0.12},
      {"p":"d3","r":0.3,"m":22.9,"e":0.08},{"p":"d3","r":0.7,"m":22.95,"e":0.08},{"p":"d3","r":1,"m":23.0,"e":0.1},{"p":"d3","r":1.5,"m":23.15,"e":0.1},{"p":"d3","r":2,"m":23.35,"e":0.1},{"p":"d3","r":2.5,"m":23.55,"e":0.1},{"p":"d3","r":3,"m":23.75,"e":0.1},{"p":"d3","r":3.5,"m":23.95,"e":0.1},{"p":"d3","r":4,"m":24.15,"e":0.1},{"p":"d3","r":4.8,"m":24.5,"e":0.1},{"p":"d3","r":6,"m":24.85,"e":0.1},{"p":"d3","r":7.1,"m":25.08,"e":0.08},{"p":"d3","r":8,"m":25.2,"e":0.08},{"p":"d3","r":9.5,"m":25.4,"e":0.08},{"p":"d3","r":11,"m":25.5,"e":0.08},{"p":"d3","r":13,"m":25.73,"e":0.08},{"p":"d3","r":15,"m":25.98,"e":0.08},{"p":"d3","r":16.7,"m":26.25,"e":0.08},{"p":"d3","r":20.2,"m":26.5,"e":0.08},{"p":"d3","r":22.6,"m":26.72,"e":0.08},{"p":"d3","r":27.4,"m":27.0,"e":0.08},{"p":"d3","r":31.4,"m":27.33,"e":0.08},{"p":"d3","r":35.7,"m":27.55,"e":0.08},{"p":"d3","r":41,"m":27.77,"e":0.08},{"p":"d3","r":45.2,"m":27.97,"e":0.08},{"p":"d3","r":51.7,"m":28.2,"e":0.1},{"p":"d3","r":58.3,"m":28.47,"e":0.08},{"p":"d3","r":65.5,"m":28.69,"e":0.1},{"p":"d3","r":73.8,"m":28.97,"e":0.08},{"p":"d3","r":83.3,"m":29.24,"e":0.2},
      {"p":"d4","r":0.3,"m":17.63,"e":0.05},{"p":"d4","r":0.7,"m":17.8,"e":0.15},{"p":"d4","r":1,"m":18.0,"e":0.2},{"p":"d4","r":1.5,"m":18.3,"e":0.25},{"p":"d4","r":2,"m":18.55,"e":0.25},{"p":"d4","r":2.5,"m":18.75,"e":0.25},{"p":"d4","r":3,"m":18.95,"e":0.25},{"p":"d4","r":3.5,"m":19.1,"e":0.2},{"p":"d4","r":4,"m":19.25,"e":0.2},{"p":"d4","r":5,"m":19.5,"e":0.2},{"p":"d4","r":6,"m":19.75,"e":0.15},{"p":"d4","r":7,"m":19.9,"e":0.15},{"p":"d4","r":8,"m":20.05,"e":0.12},{"p":"d4","r":9,"m":20.2,"e":0.12},{"p":"d4","r":10,"m":20.35,"e":0.1},{"p":"d4","r":11,"m":20.5,"e":0.1},{"p":"d4","r":12.5,"m":20.75,"e":0.1},{"p":"d4","r":15,"m":21.1,"e":0.1},{"p":"d4","r":18,"m":21.4,"e":0.08},{"p":"d4","r":21.4,"m":21.75,"e":0.08},{"p":"d4","r":25.8,"m":22.05,"e":0.08},{"p":"d4","r":30.2,"m":22.43,"e":0.15},{"p":"d4","r":33.5,"m":22.59,"e":0.08},{"p":"d4","r":39,"m":22.96,"e":0.08},{"p":"d4","r":44.5,"m":23.25,"e":0.08},{"p":"d4","r":50,"m":23.48,"e":0.08},{"p":"d4","r":55.5,"m":23.88,"e":0.08},{"p":"d4","r":62,"m":24.11,"e":0.08},{"p":"d4","r":70.5,"m":24.35,"e":0.35},{"p":"d4","r":78.6,"m":24.72,"e":0.1}
    ],
    "mod": [
      {"p":"a1","r":0.5,"m":23.6},{"p":"a1","r":2,"m":23.75},{"p":"a1","r":4,"m":24.1},{"p":"a1","r":6,"m":24.45},{"p":"a1","r":8,"m":24.8},{"p":"a1","r":10,"m":25.15},{"p":"a1","r":12,"m":25.4},{"p":"a1","r":15,"m":25.6},{"p":"a1","r":18,"m":25.8},{"p":"a1","r":22,"m":26.1},{"p":"a1","r":25,"m":26.5},{"p":"a1","r":28,"m":26.9},{"p":"a1","r":32,"m":27.2},{"p":"a1","r":36,"m":27.45},{"p":"a1","r":40,"m":27.7},{"p":"a1","r":45,"m":27.95},{"p":"a1","r":50,"m":28.25},
      {"p":"a2","r":0.3,"m":18.0},{"p":"a2","r":2,"m":18.3},{"p":"a2","r":4,"m":18.8},{"p":"a2","r":6,"m":19.2},{"p":"a2","r":8,"m":19.5},{"p":"a2","r":10,"m":19.85},{"p":"a2","r":15,"m":20.45},{"p":"a2","r":20,"m":21.0},{"p":"a2","r":25,"m":21.5},{"p":"a2","r":30,"m":21.95},{"p":"a2","r":35,"m":22.4},{"p":"a2","r":40,"m":22.8},{"p":"a2","r":45,"m":23.15},{"p":"a2","r":50,"m":23.5},
      {"p":"a3","r":2,"m":22.7},{"p":"a3","r":4,"m":23.2},{"p":"a3","r":5,"m":23.5},{"p":"a3","r":6,"m":23.8},{"p":"a3","r":7,"m":24.2},{"p":"a3","r":8,"m":24.6},{"p":"a3","r":10,"m":25.2},{"p":"a3","r":13,"m":25.7},{"p":"a3","r":16,"m":26.1},{"p":"a3","r":20,"m":26.4},{"p":"a3","r":25,"m":26.75},{"p":"a3","r":30,"m":27.0},{"p":"a3","r":35,"m":27.2},{"p":"a3","r":40,"m":27.3},{"p":"a3","r":45,"m":27.4},{"p":"a3","r":50,"m":27.55},{"p":"a3","r":57,"m":27.75},{"p":"a3","r":63,"m":27.8},{"p":"a3","r":70,"m":27.95},{"p":"a3","r":80,"m":28.2},{"p":"a3","r":90,"m":28.5},{"p":"a3","r":100,"m":28.0},
      {"p":"a4","r":0.3,"m":17.3},{"p":"a4","r":2,"m":18.0},{"p":"a4","r":4,"m":18.5},{"p":"a4","r":6,"m":18.8},{"p":"a4","r":8,"m":19.1},{"p":"a4","r":10,"m":19.4},{"p":"a4","r":15,"m":19.95},{"p":"a4","r":20,"m":20.35},{"p":"a4","r":25,"m":20.7},{"p":"a4","r":30,"m":21.0},{"p":"a4","r":35,"m":21.3},{"p":"a4","r":40,"m":21.55},{"p":"a4","r":45,"m":21.75},{"p":"a4","r":50,"m":22.0},{"p":"a4","r":55,"m":22.3},{"p":"a4","r":60,"m":22.45},{"p":"a4","r":70,"m":22.65},{"p":"a4","r":80,"m":22.95},{"p":"a4","r":90,"m":23.2},{"p":"a4","r":100,"m":23.5},
      {"p":"a5","r":0,"m":23.0},{"p":"a5","r":3,"m":23.4},{"p":"a5","r":6,"m":23.9},{"p":"a5","r":9,"m":24.5},{"p":"a5","r":12,"m":25.1},{"p":"a5","r":15,"m":25.8},{"p":"a5","r":18,"m":26.3},{"p":"a5","r":22,"m":26.7},{"p":"a5","r":28,"m":27.0},{"p":"a5","r":35,"m":27.35},{"p":"a5","r":43,"m":27.75},{"p":"a5","r":50,"m":28.0},{"p":"a5","r":55,"m":28.25},{"p":"a5","r":62,"m":28.4},{"p":"a5","r":70,"m":28.55},{"p":"a5","r":80,"m":28.85},{"p":"a5","r":90,"m":29.2},{"p":"a5","r":100,"m":29.5},
      {"p":"a6","r":0.3,"m":17.5},{"p":"a6","r":3,"m":18.2},{"p":"a6","r":6,"m":18.9},{"p":"a6","r":9,"m":19.5},{"p":"a6","r":12,"m":19.9},{"p":"a6","r":16,"m":20.3},{"p":"a6","r":20,"m":20.6},{"p":"a6","r":25,"m":20.95},{"p":"a6","r":30,"m":21.3},{"p":"a6","r":35,"m":21.6},{"p":"a6","r":40,"m":21.9},{"p":"a6","r":45,"m":22.2},{"p":"a6","r":50,"m":22.5},{"p":"a6","r":60,"m":22.9},{"p":"a6","r":70,"m":23.3},{"p":"a6","r":80,"m":23.75},{"p":"a6","r":90,"m":24.2},{"p":"a6","r":97,"m":24.45},
      {"p":"b1","r":0.5,"m":20.4},{"p":"b1","r":3,"m":22.3},{"p":"b1","r":6,"m":23.1},{"p":"b1","r":9,"m":23.8},{"p":"b1","r":11,"m":24.2},{"p":"b1","r":13.5,"m":24.0},{"p":"b1","r":16,"m":24.35},{"p":"b1","r":17.5,"m":24.15},{"p":"b1","r":19,"m":24.65},{"p":"b1","r":21,"m":24.3},{"p":"b1","r":23.5,"m":24.0},{"p":"b1","r":26,"m":24.3},{"p":"b1","r":28,"m":24.7},{"p":"b1","r":31,"m":25.3},{"p":"b1","r":35,"m":25.8},{"p":"b1","r":39,"m":25.85},{"p":"b1","r":42,"m":26.6},{"p":"b1","r":46,"m":27.5},{"p":"b1","r":49,"m":27.7},{"p":"b1","r":52,"m":28.3},{"p":"b1","r":55,"m":28.85},{"p":"b1","r":60,"m":29.0},{"p":"b1","r":70,"m":29.1},{"p":"b1","r":80,"m":29.2},{"p":"b1","r":90,"m":29.3},{"p":"b1","r":100,"m":29.5},
      {"p":"b2","r":0.5,"m":18.2},{"p":"b2","r":3,"m":18.6},{"p":"b2","r":6,"m":18.9},{"p":"b2","r":9,"m":19.2},{"p":"b2","r":12,"m":19.45},{"p":"b2","r":15,"m":19.6},{"p":"b2","r":18,"m":19.75},{"p":"b2","r":20,"m":19.9},{"p":"b2","r":22,"m":20.15},{"p":"b2","r":24,"m":20.7},{"p":"b2","r":27,"m":21.05},{"p":"b2","r":32,"m":21.45},{"p":"b2","r":40,"m":21.95},{"p":"b2","r":50,"m":22.5},{"p":"b2","r":60,"m":22.85},{"p":"b2","r":70,"m":23.2},{"p":"b2","r":80,"m":23.6},{"p":"b2","r":90,"m":24.05},{"p":"b2","r":100,"m":24.5},
      {"p":"b3","r":0.3,"m":24.0},{"p":"b3","r":5,"m":24.1},{"p":"b3","r":10,"m":24.35},{"p":"b3","r":14,"m":24.6},{"p":"b3","r":18,"m":24.72},{"p":"b3","r":24,"m":24.73},{"p":"b3","r":30,"m":24.85},{"p":"b3","r":35,"m":25.2},{"p":"b3","r":40,"m":25.63},{"p":"b3","r":44,"m":26.04},{"p":"b3","r":50,"m":26.44},{"p":"b3","r":54,"m":26.6},{"p":"b3","r":60,"m":26.85},{"p":"b3","r":66,"m":27.2},{"p":"b3","r":70,"m":27.45},{"p":"b3","r":73,"m":27.0},{"p":"b3","r":75.5,"m":28.05},{"p":"b3","r":83,"m":28.15},{"p":"b3","r":91,"m":28.45},{"p":"b3","r":100,"m":28.8},
      {"p":"b4","r":0.3,"m":18.3},{"p":"b4","r":2,"m":18.7},{"p":"b4","r":4,"m":18.95},{"p":"b4","r":6,"m":19.2},{"p":"b4","r":8,"m":19.5},{"p":"b4","r":10,"m":19.8},{"p":"b4","r":12,"m":20.05},{"p":"b4","r":15,"m":20.35},{"p":"b4","r":20,"m":20.85},{"p":"b4","r":25,"m":21.25},{"p":"b4","r":30,"m":21.55},{"p":"b4","r":35,"m":21.85},{"p":"b4","r":40,"m":22.15},{"p":"b4","r":45,"m":22.45},{"p":"b4","r":50,"m":22.75},{"p":"b4","r":55,"m":23.05},{"p":"b4","r":60,"m":23.2},{"p":"b4","r":65,"m":23.4},{"p":"b4","r":70,"m":23.6},{"p":"b4","r":75,"m":23.75},{"p":"b4","r":80,"m":23.85},{"p":"b4","r":85,"m":24.0},{"p":"b4","r":88,"m":24.1},{"p":"b4","r":92,"m":24.4},{"p":"b4","r":100,"m":25.0},
      {"p":"b5","r":0.3,"m":23.3},{"p":"b5","r":2,"m":23.8},{"p":"b5","r":4,"m":24.5},{"p":"b5","r":6,"m":25.1},{"p":"b5","r":8,"m":25.4},{"p":"b5","r":10,"m":25.65},{"p":"b5","r":14,"m":26.1},{"p":"b5","r":18,"m":26.5},{"p":"b5","r":22,"m":26.75},{"p":"b5","r":26,"m":27.0},{"p":"b5","r":30,"m":27.25},{"p":"b5","r":35,"m":27.5},{"p":"b5","r":40,"m":27.75},{"p":"b5","r":46,"m":28.0},{"p":"b5","r":50,"m":28.25},{"p":"b5","r":55,"m":28.55},{"p":"b5","r":60,"m":28.75},{"p":"b5","r":63,"m":28.75},{"p":"b5","r":67,"m":29.05},{"p":"b5","r":72,"m":29.3},{"p":"b5","r":76,"m":29.4},{"p":"b5","r":86,"m":30.0},{"p":"b5","r":100,"m":31.05},
      {"p":"b6","r":0.3,"m":18.4},{"p":"b6","r":2,"m":18.9},{"p":"b6","r":4,"m":19.3},{"p":"b6","r":6,"m":19.6},{"p":"b6","r":8,"m":19.8},{"p":"b6","r":10,"m":20.0},{"p":"b6","r":15,"m":20.5},{"p":"b6","r":20,"m":20.95},{"p":"b6","r":25,"m":21.35},{"p":"b6","r":30,"m":21.7},{"p":"b6","r":35,"m":22.0},{"p":"b6","r":40,"m":22.3},{"p":"b6","r":50,"m":22.85},{"p":"b6","r":60,"m":23.3},{"p":"b6","r":70,"m":23.75},{"p":"b6","r":80,"m":24.25},{"p":"b6","r":90,"m":24.75},{"p":"b6","r":100,"m":25.35},
      {"p":"c1","r":0.3,"m":23.1},{"p":"c1","r":3,"m":23.6},{"p":"c1","r":7,"m":24.35},{"p":"c1","r":11,"m":25.05},{"p":"c1","r":14.5,"m":25.6},{"p":"c1","r":16,"m":26.1},{"p":"c1","r":18.5,"m":26.5},{"p":"c1","r":23,"m":26.85},{"p":"c1","r":28,"m":27.05},{"p":"c1","r":31,"m":27.15},{"p":"c1","r":32,"m":27.45},{"p":"c1","r":35,"m":27.6},{"p":"c1","r":40,"m":28.0},{"p":"c1","r":47,"m":28.4},{"p":"c1","r":57,"m":28.65},{"p":"c1","r":70,"m":28.85},{"p":"c1","r":78,"m":29.05},{"p":"c1","r":84,"m":29.1},{"p":"c1","r":89,"m":29.4},
      {"p":"c2","r":0.3,"m":17.7},{"p":"c2","r":2,"m":18.3},{"p":"c2","r":4,"m":18.8},{"p":"c2","r":6,"m":19.1},{"p":"c2","r":7,"m":19.2},{"p":"c2","r":7.5,"m":19.5},{"p":"c2","r":10,"m":19.9},{"p":"c2","r":13,"m":20.3},{"p":"c2","r":16,"m":20.7},{"p":"c2","r":20,"m":21.1},{"p":"c2","r":25,"m":21.45},{"p":"c2","r":30,"m":21.75},{"p":"c2","r":35,"m":22.0},{"p":"c2","r":38,"m":22.2},{"p":"c2","r":40,"m":22.45},{"p":"c2","r":42,"m":22.4},{"p":"c2","r":45,"m":22.6},{"p":"c2","r":49,"m":22.9},{"p":"c2","r":51,"m":22.8},{"p":"c2","r":55,"m":23.0},{"p":"c2","r":60,"m":23.25},{"p":"c2","r":70,"m":23.55},{"p":"c2","r":80,"m":23.9},{"p":"c2","r":90,"m":24.3},
      {"p":"c3","r":0.3,"m":22.45},{"p":"c3","r":3,"m":23.55},{"p":"c3","r":5.5,"m":24.6},{"p":"c3","r":7,"m":25.3},{"p":"c3","r":9,"m":25.45},{"p":"c3","r":13,"m":25.65},{"p":"c3","r":17,"m":25.76},{"p":"c3","r":24,"m":25.98},{"p":"c3","r":32,"m":26.31},{"p":"c3","r":40,"m":26.75},{"p":"c3","r":49,"m":27.19},{"p":"c3","r":55,"m":27.35},{"p":"c3","r":57.5,"m":27.15},{"p":"c3","r":60,"m":27.6},{"p":"c3","r":69,"m":28.05},{"p":"c3","r":80,"m":28.4},{"p":"c3","r":89,"m":28.85},{"p":"c3","r":100,"m":29.5},
      {"p":"c4","r":0.3,"m":18.4},{"p":"c4","r":3,"m":19.35},{"p":"c4","r":7,"m":19.65},{"p":"c4","r":14,"m":20.1},{"p":"c4","r":23,"m":20.7},{"p":"c4","r":32,"m":21.2},{"p":"c4","r":39,"m":21.6},{"p":"c4","r":41,"m":21.8},{"p":"c4","r":44,"m":22.0},{"p":"c4","r":52,"m":22.4},{"p":"c4","r":67,"m":22.87},{"p":"c4","r":81,"m":23.36},{"p":"c4","r":96,"m":23.95},{"p":"c4","r":100,"m":24.1},
      {"p":"c5","r":1,"m":23.4},{"p":"c5","r":2.5,"m":24.2},{"p":"c5","r":4,"m":25.0},{"p":"c5","r":6.5,"m":25.6},{"p":"c5","r":8.5,"m":25.8},{"p":"c5","r":15,"m":25.9},{"p":"c5","r":22,"m":26.1},{"p":"c5","r":27.5,"m":26.35},{"p":"c5","r":30,"m":26.15},{"p":"c5","r":32,"m":26.0},{"p":"c5","r":35,"m":26.2},{"p":"c5","r":38.5,"m":26.55},{"p":"c5","r":44,"m":26.65},{"p":"c5","r":49,"m":26.85},{"p":"c5","r":54,"m":27.5},{"p":"c5","r":58,"m":28.1},{"p":"c5","r":65,"m":28.55},{"p":"c5","r":79,"m":28.85},{"p":"c5","r":90,"m":29.15},{"p":"c5","r":100,"m":29.5},
      {"p":"c6","r":0.3,"m":18.4},{"p":"c6","r":5,"m":19.15},{"p":"c6","r":10,"m":19.8},{"p":"c6","r":16,"m":20.55},{"p":"c6","r":22,"m":21.2},{"p":"c6","r":30,"m":21.95},{"p":"c6","r":38.5,"m":22.7},{"p":"c6","r":50,"m":23.6},{"p":"c6","r":61,"m":24.2},{"p":"c6","r":75,"m":24.85},{"p":"c6","r":89,"m":25.35},{"p":"c6","r":100,"m":26.05},
      {"p":"d1","r":0.3,"m":22.2},{"p":"d1","r":4,"m":23.2},{"p":"d1","r":8,"m":23.75},{"p":"d1","r":13.5,"m":24.0},{"p":"d1","r":17.5,"m":24.3},{"p":"d1","r":20,"m":25.0},{"p":"d1","r":23,"m":26.2},{"p":"d1","r":27,"m":26.27},{"p":"d1","r":32,"m":25.97},{"p":"d1","r":36.5,"m":26.32},{"p":"d1","r":40.5,"m":27.13},{"p":"d1","r":46,"m":27.72},{"p":"d1","r":51,"m":27.83},{"p":"d1","r":57,"m":27.66},{"p":"d1","r":62,"m":27.95},{"p":"d1","r":70,"m":28.23},{"p":"d1","r":81,"m":28.3},{"p":"d1","r":97,"m":28.3},
      {"p":"d2","r":0.3,"m":18.5},{"p":"d2","r":3,"m":19.3},{"p":"d2","r":5.5,"m":19.85},{"p":"d2","r":7,"m":19.7},{"p":"d2","r":8,"m":19.75},{"p":"d2","r":12,"m":20.1},{"p":"d2","r":19,"m":20.7},{"p":"d2","r":29,"m":21.38},{"p":"d2","r":39,"m":21.95},{"p":"d2","r":49,"m":22.5},{"p":"d2","r":59,"m":22.9},{"p":"d2","r":72,"m":23.3},{"p":"d2","r":79,"m":23.5},{"p":"d2","r":91,"m":23.65},
      {"p":"d3","r":0.3,"m":23.0},{"p":"d3","r":4.8,"m":24.4},{"p":"d3","r":7,"m":25.05},{"p":"d3","r":10.5,"m":25.3},{"p":"d3","r":13,"m":25.5},{"p":"d3","r":15.5,"m":26.05},{"p":"d3","r":18,"m":26.5},{"p":"d3","r":24,"m":26.72},{"p":"d3","r":31,"m":27.05},{"p":"d3","r":40.5,"m":27.38},{"p":"d3","r":50,"m":27.7},{"p":"d3","r":55,"m":27.85},{"p":"d3","r":60,"m":28.15},{"p":"d3","r":67,"m":28.58},{"p":"d3","r":74,"m":28.9},{"p":"d3","r":83,"m":29.45},
      {"p":"d4","r":0.3,"m":17.6},{"p":"d4","r":3.7,"m":18.45},{"p":"d4","r":8,"m":19.15},{"p":"d4","r":12.5,"m":20.1},{"p":"d4","r":19,"m":21.0},{"p":"d4","r":26,"m":21.72},{"p":"d4","r":32,"m":22.43},{"p":"d4","r":39,"m":23.0},{"p":"d4","r":43.5,"m":23.25},{"p":"d4","r":50,"m":23.7},{"p":"d4","r":52,"m":24.0},{"p":"d4","r":59,"m":24.1},{"p":"d4","r":67.5,"m":24.4},{"p":"d4","r":78.5,"m":24.88}
    ]
  },
  "vconcat": [
    {"bounds": "flush", "spacing": 44, "hconcat": [
      {"title": "M2", "width": 119, "height": 118, "layer": [
        {"data": {"name": "mod"}, "transform": [{"filter": "datum.p == 'a1'"}], "mark": {"type": "line", "color": "#e3231c", "strokeWidth": 1, "clip": true}, "encoding": {"x": {"field": "r", "type": "quantitative", "title": "arcsec", "scale": {"domain": [-2.5, 50.4], "nice": false, "zero": false}, "axis": {"values": [0, 10, 20, 30, 40, 50]}}, "y": {"field": "m", "type": "quantitative", "title": "μ[mag arcsec⁻²]", "scale": {"domain": [23, 28.45], "reverse": true, "nice": false, "zero": false}}}},
        {"data": {"name": "obs"}, "transform": [{"filter": "datum.p == 'a1'"}], "mark": {"type": "errorbar", "ticks": true, "color": "#3a3af2", "clip": true}, "encoding": {"x": {"field": "r", "type": "quantitative", "title": "arcsec"}, "y": {"field": "m", "type": "quantitative", "title": "μ[mag arcsec⁻²]"}, "yError": {"field": "e"}}},
        {"data": {"name": "obs"}, "transform": [{"filter": "datum.p == 'a1'"}], "mark": {"type": "line", "color": "#1212e8", "strokeWidth": 1, "clip": true, "point": {"filled": true, "size": 12}}, "encoding": {"x": {"field": "r", "type": "quantitative", "title": "arcsec"}, "y": {"field": "m", "type": "quantitative", "title": "μ[mag arcsec⁻²]"}}},
        {"data": {"name": "one"}, "mark": {"type": "rule", "strokeDash": [3, 2], "color": "#333", "strokeWidth": 0.8}, "encoding": {"x": {"datum": 7.4}}},
        {"data": {"name": "one"}, "mark": {"type": "text", "align": "right", "baseline": "middle", "dx": -6, "dy": 14}, "encoding": {"x": {"datum": 50.4}, "y": {"datum": 23}, "text": {"value": "N 1366"}}}
      ]},
      {"title": "V", "width": 119, "height": 118, "layer": [
        {"data": {"name": "mod"}, "transform": [{"filter": "datum.p == 'a2'"}], "mark": {"type": "line", "color": "#e3231c", "strokeWidth": 1, "clip": true}, "encoding": {"x": {"field": "r", "type": "quantitative", "title": "arcsec", "scale": {"domain": [-1.9, 50.2], "nice": false, "zero": false}, "axis": {"values": [0, 50]}}, "y": {"field": "m", "type": "quantitative", "title": "μ[mag arcsec⁻²]", "scale": {"domain": [16.95, 24.1], "reverse": true, "nice": false, "zero": false}}}},
        {"data": {"name": "obs"}, "transform": [{"filter": "datum.p == 'a2'"}], "mark": {"type": "errorbar", "ticks": true, "color": "#3a3af2", "clip": true}, "encoding": {"x": {"field": "r", "type": "quantitative", "title": "arcsec"}, "y": {"field": "m", "type": "quantitative", "title": "μ[mag arcsec⁻²]"}, "yError": {"field": "e"}}},
        {"data": {"name": "obs"}, "transform": [{"filter": "datum.p == 'a2'"}], "mark": {"type": "line", "color": "#1212e8", "strokeWidth": 1, "clip": true, "point": {"filled": true, "size": 12}}, "encoding": {"x": {"field": "r", "type": "quantitative", "title": "arcsec"}, "y": {"field": "m", "type": "quantitative", "title": "μ[mag arcsec⁻²]"}}},
        {"data": {"name": "one"}, "mark": {"type": "rule", "strokeDash": [3, 2], "color": "#333", "strokeWidth": 0.8}, "encoding": {"x": {"datum": 6.5}}}
      ]},
      {"title": "M2", "width": 119, "height": 118, "layer": [
        {"data": {"name": "mod"}, "transform": [{"filter": "datum.p == 'a3'"}], "mark": {"type": "line", "color": "#e3231c", "strokeWidth": 1, "clip": true}, "encoding": {"x": {"field": "r", "type": "quantitative", "title": "arcsec", "scale": {"domain": [-2.8, 100.5], "nice": false, "zero": false}, "axis": {"values": [0, 50, 100]}}, "y": {"field": "m", "type": "quantitative", "title": "μ[mag arcsec⁻²]", "scale": {"domain": [22, 29.5], "reverse": true, "nice": false, "zero": false}}}},
        {"data": {"name": "obs"}, "transform": [{"filter": "datum.p == 'a3'"}], "mark": {"type": "errorbar", "ticks": true, "color": "#3a3af2", "clip": true}, "encoding": {"x": {"field": "r", "type": "quantitative", "title": "arcsec"}, "y": {"field": "m", "type": "quantitative", "title": "μ[mag arcsec⁻²]"}, "yError": {"field": "e"}}},
        {"data": {"name": "obs"}, "transform": [{"filter": "datum.p == 'a3'"}], "mark": {"type": "line", "color": "#1212e8", "strokeWidth": 1, "clip": true, "point": {"filled": true, "size": 12}}, "encoding": {"x": {"field": "r", "type": "quantitative", "title": "arcsec"}, "y": {"field": "m", "type": "quantitative", "title": "μ[mag arcsec⁻²]"}}},
        {"data": {"name": "one"}, "mark": {"type": "rule", "strokeDash": [3, 2], "color": "#333", "strokeWidth": 0.8}, "encoding": {"x": {"datum": 7.7}}},
        {"data": {"name": "one"}, "mark": {"type": "text", "align": "right", "baseline": "middle", "dx": -6, "dy": 14}, "encoding": {"x": {"datum": 100.5}, "y": {"datum": 22}, "text": {"value": "N 1543"}}}
      ]},
      {"title": "V", "width": 119, "height": 118, "layer": [
        {"data": {"name": "mod"}, "transform": [{"filter": "datum.p == 'a4'"}], "mark": {"type": "line", "color": "#e3231c", "strokeWidth": 1, "clip": true}, "encoding": {"x": {"field": "r", "type": "quantitative", "title": "arcsec", "scale": {"domain": [-2.6, 100], "nice": false, "zero": false}, "axis": {"values": [0, 50, 100]}}, "y": {"field": "m", "type": "quantitative", "title": "μ[mag arcsec⁻²]", "scale": {"domain": [16.6, 24.5], "reverse": true, "nice": false, "zero": false}}}},
        {"data": {"name": "obs"}, "transform": [{"filter": "datum.p == 'a4'"}], "mark": {"type": "errorbar", "ticks": true, "color": "#3a3af2", "clip": true}, "encoding": {"x": {"field": "r", "type": "quantitative", "title": "arcsec"}, "y": {"field": "m", "type": "quantitative", "title": "μ[mag arcsec⁻²]"}, "yError": {"field": "e"}}},
        {"data": {"name": "obs"}, "transform": [{"filter": "datum.p == 'a4'"}], "mark": {"type": "line", "color": "#1212e8", "strokeWidth": 1, "clip": true, "point": {"filled": true, "size": 12}}, "encoding": {"x": {"field": "r", "type": "quantitative", "title": "arcsec"}, "y": {"field": "m", "type": "quantitative", "title": "μ[mag arcsec⁻²]"}}},
        {"data": {"name": "one"}, "mark": {"type": "rule", "strokeDash": [3, 2], "color": "#333", "strokeWidth": 0.8}, "encoding": {"x": {"datum": 6.8}}}
      ]},
      {"title": "M2", "width": 119, "height": 118, "layer": [
        {"data": {"name": "mod"}, "transform": [{"filter": "datum.p == 'a5'"}], "mark": {"type": "line", "color": "#e3231c", "strokeWidth": 1, "clip": true}, "encoding": {"x": {"field": "r", "type": "quantitative", "title": "arcsec", "scale": {"domain": [-0.6, 100.5], "nice": false, "zero": false}, "axis": {"values": [0, 50, 100]}}, "y": {"field": "m", "type": "quantitative", "title": "μ[mag arcsec⁻²]", "scale": {"domain": [22.5, 30.05], "reverse": true, "nice": false, "zero": false}}}},
        {"data": {"name": "obs"}, "transform": [{"filter": "datum.p == 'a5'"}], "mark": {"type": "errorbar", "ticks": true, "color": "#3a3af2", "clip": true}, "encoding": {"x": {"field": "r", "type": "quantitative", "title": "arcsec"}, "y": {"field": "m", "type": "quantitative", "title": "μ[mag arcsec⁻²]"}, "yError": {"field": "e"}}},
        {"data": {"name": "obs"}, "transform": [{"filter": "datum.p == 'a5'"}], "mark": {"type": "line", "color": "#1212e8", "strokeWidth": 1, "clip": true, "point": {"filled": true, "size": 12}}, "encoding": {"x": {"field": "r", "type": "quantitative", "title": "arcsec"}, "y": {"field": "m", "type": "quantitative", "title": "μ[mag arcsec⁻²]"}}},
        {"data": {"name": "one"}, "mark": {"type": "rule", "strokeDash": [3, 2], "color": "#333", "strokeWidth": 0.8}, "encoding": {"x": {"datum": 7.7}}},
        {"data": {"name": "one"}, "mark": {"type": "text", "align": "right", "baseline": "middle", "dx": -6, "dy": 14}, "encoding": {"x": {"datum": 100.5}, "y": {"datum": 22.5}, "text": {"value": "N 3962"}}}
      ]},
      {"title": "V", "width": 119, "height": 118, "layer": [
        {"data": {"name": "mod"}, "transform": [{"filter": "datum.p == 'a6'"}], "mark": {"type": "line", "color": "#e3231c", "strokeWidth": 1, "clip": true}, "encoding": {"x": {"field": "r", "type": "quantitative", "title": "arcsec", "scale": {"domain": [-1.4, 100], "nice": false, "zero": false}, "axis": {"values": [0, 50, 100]}}, "y": {"field": "m", "type": "quantitative", "title": "μ[mag arcsec⁻²]", "scale": {"domain": [16, 25], "reverse": true, "nice": false, "zero": false}}}},
        {"data": {"name": "obs"}, "transform": [{"filter": "datum.p == 'a6'"}], "mark": {"type": "errorbar", "ticks": true, "color": "#3a3af2", "clip": true}, "encoding": {"x": {"field": "r", "type": "quantitative", "title": "arcsec"}, "y": {"field": "m", "type": "quantitative", "title": "μ[mag arcsec⁻²]"}, "yError": {"field": "e"}}},
        {"data": {"name": "obs"}, "transform": [{"filter": "datum.p == 'a6'"}], "mark": {"type": "line", "color": "#1212e8", "strokeWidth": 1, "clip": true, "point": {"filled": true, "size": 12}}, "encoding": {"x": {"field": "r", "type": "quantitative", "title": "arcsec"}, "y": {"field": "m", "type": "quantitative", "title": "μ[mag arcsec⁻²]"}}},
        {"data": {"name": "one"}, "mark": {"type": "rule", "strokeDash": [3, 2], "color": "#333", "strokeWidth": 0.8}, "encoding": {"x": {"datum": 7.0}}}
      ]}
    ]},
    {"bounds": "flush", "spacing": 44, "hconcat": [
      {"width": 119, "height": 117, "layer": [
        {"data": {"name": "mod"}, "transform": [{"filter": "datum.p == 'b1'"}], "mark": {"type": "line", "color": "#e3231c", "strokeWidth": 1, "clip": true}, "encoding": {"x": {"field": "r", "type": "quantitative", "title": "arcsec", "scale": {"domain": [-1.4, 100.2], "nice": false, "zero": false}, "axis": {"values": [0, 50, 100]}}, "y": {"field": "m", "type": "quantitative", "title": "μ[mag arcsec⁻²]", "scale": {"domain": [20, 31], "reverse": true, "nice": false, "zero": false}}}},
        {"data": {"name": "obs"}, "transform": [{"filter": "datum.p == 'b1'"}], "mark": {"type": "errorbar", "ticks": true, "color": "#3a3af2", "clip": true}, "encoding": {"x": {"field": "r", "type": "quantitative", "title": "arcsec"}, "y": {"field": "m", "type": "quantitative", "title": "μ[mag arcsec⁻²]"}, "yError": {"field": "e"}}},
        {"data": {"name": "obs"}, "transform": [{"filter": "datum.p == 'b1'"}], "mark": {"type": "line", "color": "#1212e8", "strokeWidth": 1, "clip": true, "point": {"filled": true, "size": 12}}, "encoding": {"x": {"field": "r", "type": "quantitative", "title": "arcsec"}, "y": {"field": "m", "type": "quantitative", "title": "μ[mag arcsec⁻²]"}}},
        {"data": {"name": "one"}, "mark": {"type": "rule", "strokeDash": [3, 2], "color": "#333", "strokeWidth": 0.8}, "encoding": {"x": {"datum": 7.1}}},
        {"data": {"name": "one"}, "mark": {"type": "text", "align": "right", "baseline": "middle", "dx": -6, "dy": 14}, "encoding": {"x": {"datum": 100.2}, "y": {"datum": 20}, "text": {"value": "N 1415"}}}
      ]},
      {"width": 119, "height": 117, "layer": [
        {"data": {"name": "mod"}, "transform": [{"filter": "datum.p == 'b2'"}], "mark": {"type": "line", "color": "#e3231c", "strokeWidth": 1, "clip": true}, "encoding": {"x": {"field": "r", "type": "quantitative", "title": "arcsec", "scale": {"domain": [-1.4, 100], "nice": false, "zero": false}, "axis": {"values": [0, 50, 100]}}, "y": {"field": "m", "type": "quantitative", "title": "μ[mag arcsec⁻²]", "scale": {"domain": [16.5, 25], "reverse": true, "nice": false, "zero": false}}}},
        {"data": {"name": "obs"}, "transform": [{"filter": "datum.p == 'b2'"}], "mark": {"type": "errorbar", "ticks": true, "color": "#3a3af2", "clip": true}, "encoding": {"x": {"field": "r", "type": "quantitative", "title": "arcsec"}, "y": {"field": "m", "type": "quantitative", "title": "μ[mag arcsec⁻²]"}, "yError": {"field": "e"}}},
        {"data": {"name": "obs"}, "transform": [{"filter": "datum.p == 'b2'"}], "mark": {"type": "line", "color": "#1212e8", "strokeWidth": 1, "clip": true, "point": {"filled": true, "size": 12}}, "encoding": {"x": {"field": "r", "type": "quantitative", "title": "arcsec"}, "y": {"field": "m", "type": "quantitative", "title": "μ[mag arcsec⁻²]"}}},
        {"data": {"name": "one"}, "mark": {"type": "rule", "strokeDash": [3, 2], "color": "#333", "strokeWidth": 0.8}, "encoding": {"x": {"datum": 6.3}}}
      ]},
      {"width": 119, "height": 117, "layer": [
        {"data": {"name": "mod"}, "transform": [{"filter": "datum.p == 'b3'"}], "mark": {"type": "line", "color": "#e3231c", "strokeWidth": 1, "clip": true}, "encoding": {"x": {"field": "r", "type": "quantitative", "title": "arcsec", "scale": {"domain": [-2.3, 100.2], "nice": false, "zero": false}, "axis": {"values": [0, 50, 100]}}, "y": {"field": "m", "type": "quantitative", "title": "μ[mag arcsec⁻²]", "scale": {"domain": [23.5, 29], "reverse": true, "nice": false, "zero": false}}}},
        {"data": {"name": "obs"}, "transform": [{"filter": "datum.p == 'b3'"}], "mark": {"type": "errorbar", "ticks": true, "color": "#3a3af2", "clip": true}, "encoding": {"x": {"field": "r", "type": "quantitative", "title": "arcsec"}, "y": {"field": "m", "type": "quantitative", "title": "μ[mag arcsec⁻²]"}, "yError": {"field": "e"}}},
        {"data": {"name": "obs"}, "transform": [{"filter": "datum.p == 'b3'"}], "mark": {"type": "line", "color": "#1212e8", "strokeWidth": 1, "clip": true, "point": {"filled": true, "size": 12}}, "encoding": {"x": {"field": "r", "type": "quantitative", "title": "arcsec"}, "y": {"field": "m", "type": "quantitative", "title": "μ[mag arcsec⁻²]"}}},
        {"data": {"name": "one"}, "mark": {"type": "rule", "strokeDash": [3, 2], "color": "#333", "strokeWidth": 0.8}, "encoding": {"x": {"datum": 7.1}}},
        {"data": {"name": "one"}, "mark": {"type": "text", "align": "right", "baseline": "middle", "dx": -6, "dy": 14}, "encoding": {"x": {"datum": 100.2}, "y": {"datum": 23.5}, "text": {"value": "N 2685"}}}
      ]},
      {"width": 119, "height": 117, "layer": [
        {"data": {"name": "mod"}, "transform": [{"filter": "datum.p == 'b4'"}], "mark": {"type": "line", "color": "#e3231c", "strokeWidth": 1, "clip": true}, "encoding": {"x": {"field": "r", "type": "quantitative", "title": "arcsec", "scale": {"domain": [-1.4, 100], "nice": false, "zero": false}, "axis": {"values": [0, 50, 100]}}, "y": {"field": "m", "type": "quantitative", "title": "μ[mag arcsec⁻²]", "scale": {"domain": [17.5, 25.4], "reverse": true, "nice": false, "zero": false}}}},
        {"data": {"name": "obs"}, "transform": [{"filter": "datum.p == 'b4'"}], "mark": {"type": "errorbar", "ticks": true, "color": "#3a3af2", "clip": true}, "encoding": {"x": {"field": "r", "type": "quantitative", "title": "arcsec"}, "y": {"field": "m", "type": "quantitative", "title": "μ[mag arcsec⁻²]"}, "yError": {"field": "e"}}},
        {"data": {"name": "obs"}, "transform": [{"filter": "datum.p == 'b4'"}], "mark": {"type": "line", "color": "#1212e8", "strokeWidth": 1, "clip": true, "point": {"filled": true, "size": 12}}, "encoding": {"x": {"field": "r", "type": "quantitative", "title": "arcsec"}, "y": {"field": "m", "type": "quantitative", "title": "μ[mag arcsec⁻²]"}}},
        {"data": {"name": "one"}, "mark": {"type": "rule", "strokeDash": [3, 2], "color": "#333", "strokeWidth": 0.8}, "encoding": {"x": {"datum": 7.1}}}
      ]},
      {"width": 119, "height": 117, "layer": [
        {"data": {"name": "mod"}, "transform": [{"filter": "datum.p == 'b5'"}], "mark": {"type": "line", "color": "#e3231c", "strokeWidth": 1, "clip": true}, "encoding": {"x": {"field": "r", "type": "quantitative", "title": "arcsec", "scale": {"domain": [-2.3, 100.5], "nice": false, "zero": false}, "axis": {"values": [0, 50, 100]}}, "y": {"field": "m", "type": "quantitative", "title": "μ[mag arcsec⁻²]", "scale": {"domain": [22.6, 31], "reverse": true, "nice": false, "zero": false}}}},
        {"data": {"name": "obs"}, "transform": [{"filter": "datum.p == 'b5'"}], "mark": {"type": "errorbar", "ticks": true, "color": "#3a3af2", "clip": true}, "encoding": {"x": {"field": "r", "type": "quantitative", "title": "arcsec"}, "y": {"field": "m", "type": "quantitative", "title": "μ[mag arcsec⁻²]"}, "yError": {"field": "e"}}},
        {"data": {"name": "obs"}, "transform": [{"filter": "datum.p == 'b5'"}], "mark": {"type": "line", "color": "#1212e8", "strokeWidth": 1, "clip": true, "point": {"filled": true, "size": 12}}, "encoding": {"x": {"field": "r", "type": "quantitative", "title": "arcsec"}, "y": {"field": "m", "type": "quantitative", "title": "μ[mag arcsec⁻²]"}}},
        {"data": {"name": "one"}, "mark": {"type": "rule", "strokeDash": [3, 2], "color": "#333", "strokeWidth": 0.8}, "encoding": {"x": {"datum": 7.7}}},
        {"data": {"name": "one"}, "mark": {"type": "text", "align": "right", "baseline": "middle", "dx": -6, "dy": 14}, "encoding": {"x": {"datum": 100.5}, "y": {"datum": 22.6}, "text": {"value": "N 7192"}}}
      ]},
      {"width": 119, "height": 117, "layer": [
        {"data": {"name": "mod"}, "transform": [{"filter": "datum.p == 'b6'"}], "mark": {"type": "line", "color": "#e3231c", "strokeWidth": 1, "clip": true}, "encoding": {"x": {"field": "r", "type": "quantitative", "title": "arcsec", "scale": {"domain": [-2.6, 100], "nice": false, "zero": false}, "axis": {"values": [0, 50, 100]}}, "y": {"field": "m", "type": "quantitative", "title": "μ[mag arcsec⁻²]", "scale": {"domain": [17.6, 25.5], "reverse": true, "nice": false, "zero": false}}}},
        {"data": {"name": "obs"}, "transform": [{"filter": "datum.p == 'b6'"}], "mark": {"type": "errorbar", "ticks": true, "color": "#3a3af2", "clip": true}, "encoding": {"x": {"field": "r", "type": "quantitative", "title": "arcsec"}, "y": {"field": "m", "type": "quantitative", "title": "μ[mag arcsec⁻²]"}, "yError": {"field": "e"}}},
        {"data": {"name": "obs"}, "transform": [{"filter": "datum.p == 'b6'"}], "mark": {"type": "line", "color": "#1212e8", "strokeWidth": 1, "clip": true, "point": {"filled": true, "size": 12}}, "encoding": {"x": {"field": "r", "type": "quantitative", "title": "arcsec"}, "y": {"field": "m", "type": "quantitative", "title": "μ[mag arcsec⁻²]"}}},
        {"data": {"name": "one"}, "mark": {"type": "rule", "strokeDash": [3, 2], "color": "#333", "strokeWidth": 0.8}, "encoding": {"x": {"datum": 6.6}}}
      ]}
    ]},
    {"bounds": "flush", "spacing": 44, "hconcat": [
      {"width": 119, "height": 121, "layer": [
        {"data": {"name": "mod"}, "transform": [{"filter": "datum.p == 'c1'"}], "mark": {"type": "line", "color": "#e3231c", "strokeWidth": 1, "clip": true}, "encoding": {"x": {"field": "r", "type": "quantitative", "title": "arcsec", "scale": {"domain": [-1.3, 89.3], "nice": false, "zero": false}, "axis": {"values": [0, 50]}}, "y": {"field": "m", "type": "quantitative", "title": "μ[mag arcsec⁻²]", "scale": {"domain": [22.4, 30.05], "reverse": true, "nice": false, "zero": false}}}},
        {"data": {"name": "obs"}, "transform": [{"filter": "datum.p == 'c1'"}], "mark": {"type": "errorbar", "ticks": true, "color": "#3a3af2", "clip": true}, "encoding": {"x": {"field": "r", "type": "quantitative", "title": "arcsec"}, "y": {"field": "m", "type": "quantitative", "title": "μ[mag arcsec⁻²]"}, "yError": {"field": "e"}}},
        {"data": {"name": "obs"}, "transform": [{"filter": "datum.p == 'c1'"}], "mark": {"type": "line", "color": "#1212e8", "strokeWidth": 1, "clip": true, "point": {"filled": true, "size": 12}}, "encoding": {"x": {"field": "r", "type": "quantitative", "title": "arcsec"}, "y": {"field": "m", "type": "quantitative", "title": "μ[mag arcsec⁻²]"}}},
        {"data": {"name": "one"}, "mark": {"type": "rule", "strokeDash": [3, 2], "color": "#333", "strokeWidth": 0.8}, "encoding": {"x": {"datum": 6.9}}},
        {"data": {"name": "one"}, "mark": {"type": "text", "align": "right", "baseline": "middle", "dx": -6, "dy": 14}, "encoding": {"x": {"datum": 89.3}, "y": {"datum": 22.4}, "text": {"value": "N 1426"}}}
      ]},
      {"width": 119, "height": 121, "layer": [
        {"data": {"name": "mod"}, "transform": [{"filter": "datum.p == 'c2'"}], "mark": {"type": "line", "color": "#e3231c", "strokeWidth": 1, "clip": true}, "encoding": {"x": {"field": "r", "type": "quantitative", "title": "arcsec", "scale": {"domain": [-1.8, 91], "nice": false, "zero": false}, "axis": {"values": [0, 50]}}, "y": {"field": "m", "type": "quantitative", "title": "μ[mag arcsec⁻²]", "scale": {"domain": [16.9, 24.4], "reverse": true, "nice": false, "zero": false}}}},
        {"data": {"name": "obs"}, "transform": [{"filter": "datum.p == 'c2'"}], "mark": {"type": "errorbar", "ticks": true, "color": "#3a3af2", "clip": true}, "encoding": {"x": {"field": "r", "type": "quantitative", "title": "arcsec"}, "y": {"field": "m", "type": "quantitative", "title": "μ[mag arcsec⁻²]"}, "yError": {"field": "e"}}},
        {"data": {"name": "obs"}, "transform": [{"filter": "datum.p == 'c2'"}], "mark": {"type": "line", "color": "#1212e8", "strokeWidth": 1, "clip": true, "point": {"filled": true, "size": 12}}, "encoding": {"x": {"field": "r", "type": "quantitative", "title": "arcsec"}, "y": {"field": "m", "type": "quantitative", "title": "μ[mag arcsec⁻²]"}}},
        {"data": {"name": "one"}, "mark": {"type": "rule", "strokeDash": [3, 2], "color": "#333", "strokeWidth": 0.8}, "encoding": {"x": {"datum": 7.2}}}
      ]},
      {"width": 119, "height": 121, "layer": [
        {"data": {"name": "mod"}, "transform": [{"filter": "datum.p == 'c3'"}], "mark": {"type": "line", "color": "#e3231c", "strokeWidth": 1, "clip": true}, "encoding": {"x": {"field": "r", "type": "quantitative", "title": "arcsec", "scale": {"domain": [-1.4, 100.6], "nice": false, "zero": false}, "axis": {"values": [0, 50, 100]}}, "y": {"field": "m", "type": "quantitative", "title": "μ[mag arcsec⁻²]", "scale": {"domain": [21.9, 30], "reverse": true, "nice": false, "zero": false}}}},
        {"data": {"name": "obs"}, "transform": [{"filter": "datum.p == 'c3'"}], "mark": {"type": "errorbar", "ticks": true, "color": "#3a3af2", "clip": true}, "encoding": {"x": {"field": "r", "type": "quantitative", "title": "arcsec"}, "y": {"field": "m", "type": "quantitative", "title": "μ[mag arcsec⁻²]"}, "yError": {"field": "e"}}},
        {"data": {"name": "obs"}, "transform": [{"filter": "datum.p == 'c3'"}], "mark": {"type": "line", "color": "#1212e8", "strokeWidth": 1, "clip": true, "point": {"filled": true, "size": 12}}, "encoding": {"x": {"field": "r", "type": "quantitative", "title": "arcsec"}, "y": {"field": "m", "type": "quantitative", "title": "μ[mag arcsec⁻²]"}}},
        {"data": {"name": "one"}, "mark": {"type": "rule", "strokeDash": [3, 2], "color": "#333", "strokeWidth": 0.8}, "encoding": {"x": {"datum": 7.8}}},
        {"data": {"name": "one"}, "mark": {"type": "text", "align": "right", "baseline": "middle", "dx": -6, "dy": 14}, "encoding": {"x": {"datum": 100.6}, "y": {"datum": 21.9}, "text": {"value": "N 2974"}}}
      ]},
      {"width": 119, "height": 121, "layer": [
        {"data": {"name": "mod"}, "transform": [{"filter": "datum.p == 'c4'"}], "mark": {"type": "line", "color": "#e3231c", "strokeWidth": 1, "clip": true}, "encoding": {"x": {"field": "r", "type": "quantitative", "title": "arcsec", "scale": {"domain": [-1.4, 100], "nice": false, "zero": false}, "axis": {"values": [0, 50, 100]}}, "y": {"field": "m", "type": "quantitative", "title": "μ[mag arcsec⁻²]", "scale": {"domain": [16.9, 24], "reverse": true, "nice": false, "zero": false}}}},
        {"data": {"name": "obs"}, "transform": [{"filter": "datum.p == 'c4'"}], "mark": {"type": "errorbar", "ticks": true, "color": "#3a3af2", "clip": true}, "encoding": {"x": {"field": "r", "type": "quantitative", "title": "arcsec"}, "y": {"field": "m", "type": "quantitative", "title": "μ[mag arcsec⁻²]"}, "yError": {"field": "e"}}},
        {"data": {"name": "obs"}, "transform": [{"filter": "datum.p == 'c4'"}], "mark": {"type": "line", "color": "#1212e8", "strokeWidth": 1, "clip": true, "point": {"filled": true, "size": 12}}, "encoding": {"x": {"field": "r", "type": "quantitative", "title": "arcsec"}, "y": {"field": "m", "type": "quantitative", "title": "μ[mag arcsec⁻²]"}}},
        {"data": {"name": "one"}, "mark": {"type": "rule", "strokeDash": [3, 2], "color": "#333", "strokeWidth": 0.8}, "encoding": {"x": {"datum": 6.7}}}
      ]},
      {"width": 119, "height": 121, "layer": [
        {"data": {"name": "mod"}, "transform": [{"filter": "datum.p == 'c5'"}], "mark": {"type": "line", "color": "#e3231c", "strokeWidth": 1, "clip": true}, "encoding": {"x": {"field": "r", "type": "quantitative", "title": "arcsec", "scale": {"domain": [-1.4, 100.3], "nice": false, "zero": false}, "axis": {"values": [0, 50, 100]}}, "y": {"field": "m", "type": "quantitative", "title": "μ[mag arcsec⁻²]", "scale": {"domain": [22.4, 30.05], "reverse": true, "nice": false, "zero": false}}}},
        {"data": {"name": "obs"}, "transform": [{"filter": "datum.p == 'c5'"}], "mark": {"type": "errorbar", "ticks": true, "color": "#3a3af2", "clip": true}, "encoding": {"x": {"field": "r", "type": "quantitative", "title": "arcsec"}, "y": {"field": "m", "type": "quantitative", "title": "μ[mag arcsec⁻²]"}, "yError": {"field": "e"}}},
        {"data": {"name": "obs"}, "transform": [{"filter": "datum.p == 'c5'"}], "mark": {"type": "line", "color": "#1212e8", "strokeWidth": 1, "clip": true, "point": {"filled": true, "size": 12}}, "encoding": {"x": {"field": "r", "type": "quantitative", "title": "arcsec"}, "y": {"field": "m", "type": "quantitative", "title": "μ[mag arcsec⁻²]"}}},
        {"data": {"name": "one"}, "mark": {"type": "rule", "strokeDash": [3, 2], "color": "#333", "strokeWidth": 0.8}, "encoding": {"x": {"datum": 8.3}}},
        {"data": {"name": "one"}, "mark": {"type": "text", "align": "right", "baseline": "middle", "dx": -6, "dy": 14}, "encoding": {"x": {"datum": 100.3}, "y": {"datum": 22.4}, "text": {"value": "IC 2006"}}}
      ]},
      {"width": 119, "height": 121, "layer": [
        {"data": {"name": "mod"}, "transform": [{"filter": "datum.p == 'c6'"}], "mark": {"type": "line", "color": "#e3231c", "strokeWidth": 1, "clip": true}, "encoding": {"x": {"field": "r", "type": "quantitative", "title": "arcsec", "scale": {"domain": [-1.4, 100], "nice": false, "zero": false}, "axis": {"values": [0, 50, 100]}}, "y": {"field": "m", "type": "quantitative", "title": "μ[mag arcsec⁻²]", "scale": {"domain": [17.4, 26.4], "reverse": true, "nice": false, "zero": false}}}},
        {"data": {"name": "obs"}, "transform": [{"filter": "datum.p == 'c6'"}], "mark": {"type": "errorbar", "ticks": true, "color": "#3a3af2", "clip": true}, "encoding": {"x": {"field": "r", "type": "quantitative", "title": "arcsec"}, "y": {"field": "m", "type": "quantitative", "title": "μ[mag arcsec⁻²]"}, "yError": {"field": "e"}}},
        {"data": {"name": "obs"}, "transform": [{"filter": "datum.p == 'c6'"}], "mark": {"type": "line", "color": "#1212e8", "strokeWidth": 1, "clip": true, "point": {"filled": true, "size": 12}}, "encoding": {"x": {"field": "r", "type": "quantitative", "title": "arcsec"}, "y": {"field": "m", "type": "quantitative", "title": "μ[mag arcsec⁻²]"}}},
        {"data": {"name": "one"}, "mark": {"type": "rule", "strokeDash": [3, 2], "color": "#333", "strokeWidth": 0.8}, "encoding": {"x": {"datum": 6.2}}}
      ]}
    ]},
    {"bounds": "flush", "spacing": 44, "hconcat": [
      {"width": 119, "height": 114, "layer": [
        {"data": {"name": "mod"}, "transform": [{"filter": "datum.p == 'd1'"}], "mark": {"type": "line", "color": "#e3231c", "strokeWidth": 1, "clip": true}, "encoding": {"x": {"field": "r", "type": "quantitative", "title": "arcsec", "scale": {"domain": [-0.3, 98.6], "nice": false, "zero": false}, "axis": {"values": [0, 50]}}, "y": {"field": "m", "type": "quantitative", "title": "μ[mag arcsec⁻²]", "scale": {"domain": [21.3, 29.3], "reverse": true, "nice": false, "zero": false}}}},
        {"data": {"name": "obs"}, "transform": [{"filter": "datum.p == 'd1'"}], "mark": {"type": "errorbar", "ticks": true, "color": "#3a3af2", "clip": true}, "encoding": {"x": {"field": "r", "type": "quantitative", "title": "arcsec"}, "y": {"field": "m", "type": "quantitative", "title": "μ[mag arcsec⁻²]"}, "yError": {"field": "e"}}},
        {"data": {"name": "obs"}, "transform": [{"filter": "datum.p == 'd1'"}], "mark": {"type": "line", "color": "#1212e8", "strokeWidth": 1, "clip": true, "point": {"filled": true, "size": 12}}, "encoding": {"x": {"field": "r", "type": "quantitative", "title": "arcsec"}, "y": {"field": "m", "type": "quantitative", "title": "μ[mag arcsec⁻²]"}}},
        {"data": {"name": "one"}, "mark": {"type": "rule", "strokeDash": [3, 2], "color": "#333", "strokeWidth": 0.8}, "encoding": {"x": {"datum": 9.5}}},
        {"data": {"name": "one"}, "mark": {"type": "text", "align": "right", "baseline": "middle", "dx": -6, "dy": 14}, "encoding": {"x": {"datum": 98.6}, "y": {"datum": 21.3}, "text": {"value": "N 1533"}}}
      ]},
      {"width": 119, "height": 114, "layer": [
        {"data": {"name": "mod"}, "transform": [{"filter": "datum.p == 'd2'"}], "mark": {"type": "line", "color": "#e3231c", "strokeWidth": 1, "clip": true}, "encoding": {"x": {"field": "r", "type": "quantitative", "title": "arcsec", "scale": {"domain": [-0.8, 91.2], "nice": false, "zero": false}, "axis": {"values": [0, 50]}}, "y": {"field": "m", "type": "quantitative", "title": "μ[mag arcsec⁻²]", "scale": {"domain": [16.9, 24.7], "reverse": true, "nice": false, "zero": false}}}},
        {"data": {"name": "obs"}, "transform": [{"filter": "datum.p == 'd2'"}], "mark": {"type": "errorbar", "ticks": true, "color": "#3a3af2", "clip": true}, "encoding": {"x": {"field": "r", "type": "quantitative", "title": "arcsec"}, "y": {"field": "m", "type": "quantitative", "title": "μ[mag arcsec⁻²]"}, "yError": {"field": "e"}}},
        {"data": {"name": "obs"}, "transform": [{"filter": "datum.p == 'd2'"}], "mark": {"type": "line", "color": "#1212e8", "strokeWidth": 1, "clip": true, "point": {"filled": true, "size": 12}}, "encoding": {"x": {"field": "r", "type": "quantitative", "title": "arcsec"}, "y": {"field": "m", "type": "quantitative", "title": "μ[mag arcsec⁻²]"}}},
        {"data": {"name": "one"}, "mark": {"type": "rule", "strokeDash": [3, 2], "color": "#333", "strokeWidth": 0.8}, "encoding": {"x": {"datum": 6.8}}}
      ]},
      {"width": 119, "height": 114, "layer": [
        {"data": {"name": "mod"}, "transform": [{"filter": "datum.p == 'd3'"}], "mark": {"type": "line", "color": "#e3231c", "strokeWidth": 1, "clip": true}, "encoding": {"x": {"field": "r", "type": "quantitative", "title": "arcsec", "scale": {"domain": [-1.2, 83.3], "nice": false, "zero": false}, "axis": {"values": [0, 50]}}, "y": {"field": "m", "type": "quantitative", "title": "μ[mag arcsec⁻²]", "scale": {"domain": [22.3, 30], "reverse": true, "nice": false, "zero": false}}}},
        {"data": {"name": "obs"}, "transform": [{"filter": "datum.p == 'd3'"}], "mark": {"type": "errorbar", "ticks": true, "color": "#3a3af2", "clip": true}, "encoding": {"x": {"field": "r", "type": "quantitative", "title": "arcsec"}, "y": {"field": "m", "type": "quantitative", "title": "μ[mag arcsec⁻²]"}, "yError": {"field": "e"}}},
        {"data": {"name": "obs"}, "transform": [{"filter": "datum.p == 'd3'"}], "mark": {"type": "line", "color": "#1212e8", "strokeWidth": 1, "clip": true, "point": {"filled": true, "size": 12}}, "encoding": {"x": {"field": "r", "type": "quantitative", "title": "arcsec"}, "y": {"field": "m", "type": "quantitative", "title": "μ[mag arcsec⁻²]"}}},
        {"data": {"name": "one"}, "mark": {"type": "rule", "strokeDash": [3, 2], "color": "#333", "strokeWidth": 0.8}, "encoding": {"x": {"datum": 7.1}}},
        {"data": {"name": "one"}, "mark": {"type": "text", "align": "right", "baseline": "middle", "dx": -6, "dy": 14}, "encoding": {"x": {"datum": 83.3}, "y": {"datum": 22.3}, "text": {"value": "N 3818"}}}
      ]},
      {"width": 119, "height": 114, "layer": [
        {"data": {"name": "mod"}, "transform": [{"filter": "datum.p == 'd4'"}], "mark": {"type": "line", "color": "#e3231c", "strokeWidth": 1, "clip": true}, "encoding": {"x": {"field": "r", "type": "quantitative", "title": "arcsec", "scale": {"domain": [-0.7, 79.7], "nice": false, "zero": false}, "axis": {"values": [0, 50]}}, "y": {"field": "m", "type": "quantitative", "title": "μ[mag arcsec⁻²]", "scale": {"domain": [16.9, 25], "reverse": true, "nice": false, "zero": false}}}},
        {"data": {"name": "obs"}, "transform": [{"filter": "datum.p == 'd4'"}], "mark": {"type": "errorbar", "ticks": true, "color": "#3a3af2", "clip": true}, "encoding": {"x": {"field": "r", "type": "quantitative", "title": "arcsec"}, "y": {"field": "m", "type": "quantitative", "title": "μ[mag arcsec⁻²]"}, "yError": {"field": "e"}}},
        {"data": {"name": "obs"}, "transform": [{"filter": "datum.p == 'd4'"}], "mark": {"type": "line", "color": "#1212e8", "strokeWidth": 1, "clip": true, "point": {"filled": true, "size": 12}}, "encoding": {"x": {"field": "r", "type": "quantitative", "title": "arcsec"}, "y": {"field": "m", "type": "quantitative", "title": "μ[mag arcsec⁻²]"}}},
        {"data": {"name": "one"}, "mark": {"type": "rule", "strokeDash": [3, 2], "color": "#333", "strokeWidth": 0.8}, "encoding": {"x": {"datum": 6.6}}}
      ]}
    ]}
  ]
}
